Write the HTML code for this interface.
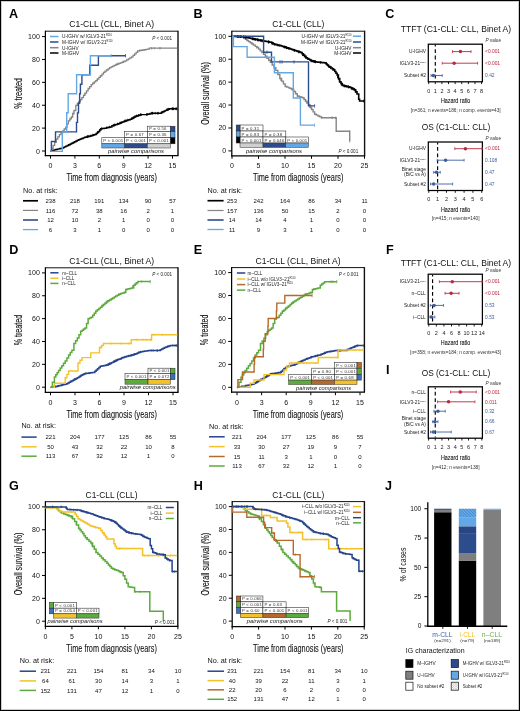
<!DOCTYPE html>
<html><head><meta charset="utf-8"><title>Figure</title>
<style>
html,body{margin:0;padding:0;background:#fff;}
body{width:520px;height:711px;overflow:hidden;}
#fig{position:relative;width:520px;height:711px;box-sizing:border-box;border:1px solid #000;background:#fff;box-shadow:inset 0 0 0 1px rgba(0,0,0,0.2);}
svg{position:absolute;left:-1px;top:-1px;will-change:transform;}
text{font-family:"Liberation Sans", sans-serif;}
</style></head><body><div id="fig">
<svg width="520" height="711" viewBox="0 0 520 711" font-family="Liberation Sans, sans-serif">
<text x="9" y="17.9" font-size="12.6" font-weight="bold">A</text>
<line x1="45.4" y1="31.2" x2="178" y2="31.2" stroke="#111" stroke-width="1"/>
<line x1="178" y1="30.7" x2="178" y2="155.6" stroke="#111" stroke-width="1.4"/>
<line x1="45.4" y1="30.7" x2="45.4" y2="156.2" stroke="#000" stroke-width="1.25"/>
<line x1="44.8" y1="155.6" x2="178.6" y2="155.6" stroke="#000" stroke-width="1.25"/>
<line x1="42" y1="151" x2="45.4" y2="151" stroke="#000" stroke-width="1"/>
<text x="39.8" y="153.5" font-size="7" text-anchor="end" fill="#111">0</text>
<line x1="42" y1="128.12" x2="45.4" y2="128.12" stroke="#000" stroke-width="1"/>
<text x="39.8" y="130.62" font-size="7" text-anchor="end" fill="#111">20</text>
<line x1="42" y1="105.24" x2="45.4" y2="105.24" stroke="#000" stroke-width="1"/>
<text x="39.8" y="107.74" font-size="7" text-anchor="end" fill="#111">40</text>
<line x1="42" y1="82.36" x2="45.4" y2="82.36" stroke="#000" stroke-width="1"/>
<text x="39.8" y="84.86" font-size="7" text-anchor="end" fill="#111">60</text>
<line x1="42" y1="59.48" x2="45.4" y2="59.48" stroke="#000" stroke-width="1"/>
<text x="39.8" y="61.98" font-size="7" text-anchor="end" fill="#111">80</text>
<line x1="42" y1="36.6" x2="45.4" y2="36.6" stroke="#000" stroke-width="1"/>
<text x="39.8" y="39.1" font-size="7" text-anchor="end" fill="#111">100</text>
<line x1="50.5" y1="155.6" x2="50.5" y2="158.6" stroke="#000" stroke-width="1"/>
<text x="50.5" y="168.2" font-size="7" text-anchor="middle" fill="#111">0</text>
<line x1="74.9" y1="155.6" x2="74.9" y2="158.6" stroke="#000" stroke-width="1"/>
<text x="74.9" y="168.2" font-size="7" text-anchor="middle" fill="#111">3</text>
<line x1="99.3" y1="155.6" x2="99.3" y2="158.6" stroke="#000" stroke-width="1"/>
<text x="99.3" y="168.2" font-size="7" text-anchor="middle" fill="#111">6</text>
<line x1="123.7" y1="155.6" x2="123.7" y2="158.6" stroke="#000" stroke-width="1"/>
<text x="123.7" y="168.2" font-size="7" text-anchor="middle" fill="#111">9</text>
<line x1="148.1" y1="155.6" x2="148.1" y2="158.6" stroke="#000" stroke-width="1"/>
<text x="148.1" y="168.2" font-size="7" text-anchor="middle" fill="#111">12</text>
<line x1="172.5" y1="155.6" x2="172.5" y2="158.6" stroke="#000" stroke-width="1"/>
<text x="172.5" y="168.2" font-size="7" text-anchor="middle" fill="#111">15</text>
<text x="111.7" y="181" font-size="10.5" text-anchor="middle" fill="#111" textLength="90.5" lengthAdjust="spacingAndGlyphs" stroke="#111" stroke-width="0.1">Time from diagnosis (years)</text>
<text x="0" y="0" font-size="10.4" text-anchor="middle" fill="#111" stroke="#111" stroke-width="0.12" transform="translate(22.3,93.4) rotate(-90)" textLength="30.6" lengthAdjust="spacingAndGlyphs">% treated</text>
<text x="111.7" y="27.1" font-size="9" text-anchor="middle" fill="#111" textLength="85" lengthAdjust="spacingAndGlyphs">C1-CLL (CLL, Binet A)</text>
<polyline points="50.5,151.2 51.8,151.2 51.8,148.3 53.1,148.3 53.1,145.4 54.65,145.4 54.65,142.25 56.2,142.25 56.2,139.1 57.8,139.1 57.8,136.9 59.4,136.9 59.4,134.7 61,134.7 61,132.8 62.6,132.8 62.6,130.9 64.15,130.9 64.15,129 65.7,129 65.7,127.1 67,127.1 67,123.95 68.3,123.95 68.3,120.8 69.85,120.8 69.85,118.9 71.4,118.9 71.4,117 72.7,117 72.7,113.75 74,113.75 74,110.5 75.8,110.5 75.8,105.4 77.33,105.4 77.33,103.48 78.85,103.48 78.85,101.55 80.38,101.55 80.38,99.62 81.9,99.62 81.9,97.7 83.45,97.7 83.45,95.4 85,95.4 85,93.1 86.55,93.1 86.55,90.8 88.1,90.8 88.1,88.5 89.65,88.5 89.65,86.55 91.2,86.55 91.2,84.6 92.72,84.6 92.72,83.25 94.25,83.25 94.25,81.9 95.78,81.9 95.78,80.55 97.3,80.55 97.3,79.2 98.85,79.2 98.85,77.47 100.4,77.47 100.4,75.75 101.95,75.75 101.95,74.03 103.5,74.03 103.5,72.3 105.03,72.3 105.03,71.15 106.55,71.15 106.55,70 108.07,70 108.07,68.85 109.6,68.85 109.6,67.7 111.15,67.7 111.15,66.92 112.7,66.92 112.7,66.15 114.25,66.15 114.25,65.38 115.8,65.38 115.8,64.6 117.33,64.6 117.33,64.02 118.85,64.02 118.85,63.45 120.38,63.45 120.38,62.88 121.9,62.88 121.9,62.3 123.45,62.3 123.45,61.55 125,61.55 125,60.8 126.62,60.8 126.62,59.82 128.25,59.82 128.25,58.85 129.88,58.85 129.88,57.88 131.5,57.88 131.5,56.9 133.05,56.9 133.05,55.38 134.6,55.38 134.6,53.85 136.15,53.85 136.15,52.32 137.7,52.32 137.7,50.8 139.37,50.8 139.37,50.53 141.03,50.53 141.03,50.27 142.7,50.27 142.7,50 144.37,50 144.37,49.73 146.03,49.73 146.03,49.47 147.7,49.47 147.7,49.2 149.2,49.2 149.2,48.2 177.4,48.2" fill="none" stroke="#858585" stroke-width="1.3" stroke-linejoin="miter"/>
<line x1="84.38" y1="92.82" x2="84.38" y2="95.22" stroke="#858585" stroke-width="0.7"/>
<line x1="160.68" y1="47" x2="160.68" y2="49.4" stroke="#858585" stroke-width="0.7"/>
<line x1="151.72" y1="47" x2="151.72" y2="49.4" stroke="#858585" stroke-width="0.7"/>
<line x1="97.29" y1="78.01" x2="97.29" y2="80.41" stroke="#858585" stroke-width="0.7"/>
<line x1="123.01" y1="60.56" x2="123.01" y2="62.96" stroke="#858585" stroke-width="0.7"/>
<line x1="118.1" y1="62.53" x2="118.1" y2="64.93" stroke="#858585" stroke-width="0.7"/>
<line x1="139.72" y1="49.28" x2="139.72" y2="51.68" stroke="#858585" stroke-width="0.7"/>
<line x1="154.39" y1="47" x2="154.39" y2="49.4" stroke="#858585" stroke-width="0.7"/>
<line x1="80.04" y1="98.84" x2="80.04" y2="101.24" stroke="#858585" stroke-width="0.7"/>
<line x1="73.03" y1="111.72" x2="73.03" y2="114.12" stroke="#858585" stroke-width="0.7"/>
<line x1="159.43" y1="47" x2="159.43" y2="49.4" stroke="#858585" stroke-width="0.7"/>
<line x1="116.31" y1="63.21" x2="116.31" y2="65.61" stroke="#858585" stroke-width="0.7"/>
<line x1="151.56" y1="47" x2="151.56" y2="49.4" stroke="#858585" stroke-width="0.7"/>
<line x1="70.23" y1="117.24" x2="70.23" y2="119.64" stroke="#858585" stroke-width="0.7"/>
<polyline points="50.5,151.2 51.83,151.2 51.83,150.75 53.15,150.75 53.15,150.3 54.47,150.3 54.47,149.85 55.8,149.85 55.8,149.4 57.22,149.4 57.22,149.12 58.65,149.12 58.65,148.85 60.08,148.85 60.08,148.58 61.5,148.58 61.5,148.3 62.95,148.3 62.95,147.58 64.4,147.58 64.4,146.85 65.85,146.85 65.85,146.12 67.3,146.12 67.3,145.4 68.75,145.4 68.75,144.68 70.2,144.68 70.2,143.95 71.65,143.95 71.65,143.22 73.1,143.22 73.1,142.5 74.52,142.5 74.52,141.78 75.95,141.78 75.95,141.05 77.38,141.05 77.38,140.32 78.8,140.32 78.8,139.6 80.25,139.6 80.25,139.03 81.7,139.03 81.7,138.45 83.15,138.45 83.15,137.88 84.6,137.88 84.6,137.3 86.05,137.3 86.05,136.95 87.5,136.95 87.5,136.6 88.95,136.6 88.95,136.25 90.4,136.25 90.4,135.9 91.55,135.9 91.55,135.53 92.7,135.53 92.7,135.15 93.85,135.15 93.85,134.78 95,134.78 95,134.4 96.17,134.4 96.17,133.43 97.33,133.43 97.33,132.47 98.5,132.47 98.5,131.5 99.65,131.5 99.65,130.1 100.8,130.1 100.8,128.7 101.95,128.7 101.95,128.55 103.1,128.55 103.1,128.4 104.25,128.4 104.25,128.25 105.4,128.25 105.4,128.1 106.55,128.1 106.55,127.8 107.7,127.8 107.7,127.5 108.85,127.5 108.85,127.2 110,127.2 110,126.9 111.9,126.9 111.9,125.8 113.14,125.8 113.14,125.4 114.38,125.4 114.38,125 115.62,125 115.62,124.6 116.86,124.6 116.86,124.2 118.1,124.2 118.1,123.8 119.48,123.8 119.48,123.22 120.86,123.22 120.86,122.64 122.24,122.64 122.24,122.06 123.62,122.06 123.62,121.48 125,121.48 125,120.9 126.33,120.9 126.33,120.5 127.65,120.5 127.65,120.1 128.98,120.1 128.98,119.7 130.3,119.7 130.3,119.3 131.62,119.3 131.62,118.53 132.95,118.53 132.95,117.75 134.28,117.75 134.28,116.97 135.6,116.97 135.6,116.2 136.93,116.2 136.93,115.8 138.25,115.8 138.25,115.4 139.57,115.4 139.57,115 140.9,115 140.9,114.6 146.2,114.6 147.52,114.6 147.52,114.25 148.85,114.25 148.85,113.9 150.18,113.9 150.18,113.55 151.5,113.55 151.5,113.2 159.9,113.2 161.33,113.2 161.33,112.43 162.77,112.43 162.77,111.67 164.2,111.67 164.2,110.9 165.5,110.9 165.5,110.38 166.8,110.38 166.8,109.85 168.1,109.85 168.1,109.33 169.4,109.33 169.4,108.8 177.2,108.8" fill="none" stroke="#000000" stroke-width="1.45" stroke-linejoin="miter"/>
<line x1="172.96" y1="107.5" x2="172.96" y2="110.1" stroke="#000000" stroke-width="0.8"/>
<line x1="172.2" y1="107.5" x2="172.2" y2="110.1" stroke="#000000" stroke-width="0.8"/>
<line x1="90.2" y1="134.65" x2="90.2" y2="137.25" stroke="#000000" stroke-width="0.8"/>
<line x1="92.81" y1="133.81" x2="92.81" y2="136.41" stroke="#000000" stroke-width="0.8"/>
<line x1="161.87" y1="110.85" x2="161.87" y2="113.45" stroke="#000000" stroke-width="0.8"/>
<line x1="152.71" y1="111.9" x2="152.71" y2="114.5" stroke="#000000" stroke-width="0.8"/>
<line x1="146.62" y1="113.19" x2="146.62" y2="115.79" stroke="#000000" stroke-width="0.8"/>
<line x1="113.35" y1="124.03" x2="113.35" y2="126.63" stroke="#000000" stroke-width="0.8"/>
<line x1="140.75" y1="113.35" x2="140.75" y2="115.95" stroke="#000000" stroke-width="0.8"/>
<line x1="140.83" y1="113.32" x2="140.83" y2="115.92" stroke="#000000" stroke-width="0.8"/>
<line x1="138.47" y1="114.03" x2="138.47" y2="116.63" stroke="#000000" stroke-width="0.8"/>
<line x1="99.57" y1="128.9" x2="99.57" y2="131.5" stroke="#000000" stroke-width="0.8"/>
<line x1="124.62" y1="119.76" x2="124.62" y2="122.36" stroke="#000000" stroke-width="0.8"/>
<line x1="121.2" y1="121.2" x2="121.2" y2="123.8" stroke="#000000" stroke-width="0.8"/>
<line x1="151.52" y1="111.9" x2="151.52" y2="114.5" stroke="#000000" stroke-width="0.8"/>
<line x1="176.52" y1="107.5" x2="176.52" y2="110.1" stroke="#000000" stroke-width="0.8"/>
<line x1="172.34" y1="107.5" x2="172.34" y2="110.1" stroke="#000000" stroke-width="0.8"/>
<line x1="135.06" y1="115.21" x2="135.06" y2="117.81" stroke="#000000" stroke-width="0.8"/>
<line x1="125.93" y1="119.32" x2="125.93" y2="121.92" stroke="#000000" stroke-width="0.8"/>
<line x1="109.68" y1="125.68" x2="109.68" y2="128.28" stroke="#000000" stroke-width="0.8"/>
<line x1="88.31" y1="135.11" x2="88.31" y2="137.71" stroke="#000000" stroke-width="0.8"/>
<line x1="87.52" y1="135.29" x2="87.52" y2="137.89" stroke="#000000" stroke-width="0.8"/>
<line x1="127.77" y1="118.76" x2="127.77" y2="121.36" stroke="#000000" stroke-width="0.8"/>
<line x1="114.3" y1="123.73" x2="114.3" y2="126.33" stroke="#000000" stroke-width="0.8"/>
<line x1="119.96" y1="121.72" x2="119.96" y2="124.32" stroke="#000000" stroke-width="0.8"/>
<line x1="167.04" y1="108.45" x2="167.04" y2="111.05" stroke="#000000" stroke-width="0.8"/>
<line x1="133.37" y1="116.2" x2="133.37" y2="118.8" stroke="#000000" stroke-width="0.8"/>
<line x1="136.57" y1="114.61" x2="136.57" y2="117.21" stroke="#000000" stroke-width="0.8"/>
<line x1="106.72" y1="126.45" x2="106.72" y2="129.05" stroke="#000000" stroke-width="0.8"/>
<line x1="87.19" y1="135.37" x2="87.19" y2="137.97" stroke="#000000" stroke-width="0.8"/>
<line x1="114.91" y1="123.53" x2="114.91" y2="126.13" stroke="#000000" stroke-width="0.8"/>
<line x1="97.58" y1="130.97" x2="97.58" y2="133.57" stroke="#000000" stroke-width="0.8"/>
<line x1="131.94" y1="117.04" x2="131.94" y2="119.64" stroke="#000000" stroke-width="0.8"/>
<line x1="176.88" y1="107.5" x2="176.88" y2="110.1" stroke="#000000" stroke-width="0.8"/>
<line x1="147.05" y1="113.07" x2="147.05" y2="115.67" stroke="#000000" stroke-width="0.8"/>
<line x1="101.73" y1="127.28" x2="101.73" y2="129.88" stroke="#000000" stroke-width="0.8"/>
<line x1="167.21" y1="108.38" x2="167.21" y2="110.98" stroke="#000000" stroke-width="0.8"/>
<line x1="158.3" y1="111.9" x2="158.3" y2="114.5" stroke="#000000" stroke-width="0.8"/>
<line x1="152.56" y1="111.9" x2="152.56" y2="114.5" stroke="#000000" stroke-width="0.8"/>
<line x1="168.41" y1="107.9" x2="168.41" y2="110.5" stroke="#000000" stroke-width="0.8"/>
<line x1="155.19" y1="111.9" x2="155.19" y2="114.5" stroke="#000000" stroke-width="0.8"/>
<line x1="157.66" y1="111.9" x2="157.66" y2="114.5" stroke="#000000" stroke-width="0.8"/>
<line x1="117.55" y1="122.68" x2="117.55" y2="125.28" stroke="#000000" stroke-width="0.8"/>
<line x1="175.25" y1="107.5" x2="175.25" y2="110.1" stroke="#000000" stroke-width="0.8"/>
<line x1="173.49" y1="107.5" x2="173.49" y2="110.1" stroke="#000000" stroke-width="0.8"/>
<polyline points="50.5,151.4 51.4,151.4 51.4,141.5 55.5,141.5 55.5,131.9 76.5,131.9 76.5,122.4 77.5,122.4 77.5,112.9 78.5,112.9 78.5,103.3 79.6,103.3 79.6,93.8 80.4,93.8 80.4,84.3 81.9,84.3 81.9,74.7 89.7,74.7 89.7,65.2 98.4,65.2 98.4,55.7 125.5,55.7 125.5,55.7" fill="none" stroke="#2d4c8c" stroke-width="1.4" stroke-linejoin="miter"/>
<polyline points="50.5,151.4 62.3,151.4 62.3,131.9 66.7,131.9 66.7,112.8 68.2,112.8 68.2,93.8 76.6,93.8 76.6,74.7 90.4,74.7 90.4,55.7 111.2,55.7 111.2,55.7" fill="none" stroke="#62a8e6" stroke-width="1.4" stroke-linejoin="miter"/>
<line x1="111.2" y1="54" x2="111.2" y2="57.4" stroke="#62a8e6" stroke-width="0.8"/>
<line x1="125.5" y1="54" x2="125.5" y2="57.4" stroke="#2d4c8c" stroke-width="0.8"/>
<line x1="50" y1="36.5" x2="58.5" y2="36.5" stroke="#62a8e6" stroke-width="1.5"/>
<text x="62" y="38.3" font-size="4.75" fill="#222">U-IGHV w/ IGLV3-21<tspan font-size="2.6" dy="-2">R110</tspan></text>
<line x1="50" y1="42" x2="58.5" y2="42" stroke="#2d4c8c" stroke-width="1.5"/>
<text x="62" y="43.8" font-size="4.75" fill="#222">M-IGHV w/ IGLV3-21<tspan font-size="2.6" dy="-2">R110</tspan></text>
<line x1="50" y1="47.7" x2="58.5" y2="47.7" stroke="#858585" stroke-width="1.5"/>
<text x="62" y="49.5" font-size="4.75" fill="#222">U-IGHV</text>
<line x1="50" y1="53" x2="58.5" y2="53" stroke="#000000" stroke-width="1.5"/>
<text x="62" y="54.8" font-size="4.75" fill="#222">M-IGHV</text>
<text x="172" y="40.3" font-size="4.6" fill="#222" text-anchor="end"><tspan font-style="italic">P</tspan> &lt; 0.001</text>
<rect x="147.4" y="126.2" width="23.1" height="5.4" fill="#fff" stroke="#333" stroke-width="0.6"/>
<text x="148.9" y="130.2" font-size="4.3" fill="#333" textLength="17.6" lengthAdjust="spacing">P = 0.56</text>
<rect x="124.6" y="131.6" width="22.8" height="6.1" fill="#fff" stroke="#333" stroke-width="0.6"/>
<text x="126.1" y="136.3" font-size="4.3" fill="#333" textLength="17.6" lengthAdjust="spacing">P = 0.67</text>
<rect x="147.4" y="131.6" width="23.1" height="6.1" fill="#fff" stroke="#333" stroke-width="0.6"/>
<text x="148.9" y="136.3" font-size="4.3" fill="#333" textLength="17.6" lengthAdjust="spacing">P = 0.36</text>
<rect x="101.8" y="137.7" width="22.8" height="6.1" fill="#fff" stroke="#333" stroke-width="0.6"/>
<text x="103.3" y="142.4" font-size="4.3" fill="#333" textLength="19.8" lengthAdjust="spacing">P &lt; 0.001</text>
<rect x="124.6" y="137.7" width="22.8" height="6.1" fill="#fff" stroke="#333" stroke-width="0.6"/>
<text x="126.1" y="142.4" font-size="4.3" fill="#333" textLength="19.8" lengthAdjust="spacing">P &lt; 0.001</text>
<rect x="147.4" y="137.7" width="23.1" height="6.1" fill="#fff" stroke="#333" stroke-width="0.6"/>
<text x="148.9" y="142.4" font-size="4.3" fill="#333" textLength="19.8" lengthAdjust="spacing">P &lt; 0.001</text>
<rect x="170.5" y="126.2" width="4.5" height="5.4" fill="#2d4c8c" stroke="#222" stroke-width="0.5"/>
<rect x="170.5" y="131.6" width="4.5" height="6.1" fill="#62a8e6" stroke="#222" stroke-width="0.5"/>
<rect x="170.5" y="137.7" width="4.5" height="6.1" fill="#000000" stroke="#222" stroke-width="0.5"/>
<rect x="101.8" y="143.8" width="22.8" height="4.2" fill="#62a8e6" stroke="#333" stroke-width="0.5"/>
<rect x="124.6" y="143.8" width="22.8" height="4.2" fill="#2d4c8c" stroke="#333" stroke-width="0.5"/>
<rect x="147.4" y="143.8" width="23.1" height="4.2" fill="#cfcfcf" stroke="#333" stroke-width="0.5"/>
<text x="136" y="153.3" font-size="5.2" text-anchor="middle" font-style="italic" fill="#222" textLength="56" lengthAdjust="spacingAndGlyphs">pairwise comparisons</text>
<text x="23" y="192.9" font-size="6.8" fill="#111" textLength="34.5" lengthAdjust="spacingAndGlyphs">No. at risk:</text>
<line x1="23" y1="200.8" x2="38" y2="200.8" stroke="#000000" stroke-width="1.7"/>
<text x="50.5" y="202.9" font-size="6" text-anchor="middle" fill="#111">238</text>
<text x="74.9" y="202.9" font-size="6" text-anchor="middle" fill="#111">218</text>
<text x="99.3" y="202.9" font-size="6" text-anchor="middle" fill="#111">191</text>
<text x="123.7" y="202.9" font-size="6" text-anchor="middle" fill="#111">134</text>
<text x="148.1" y="202.9" font-size="6" text-anchor="middle" fill="#111">90</text>
<text x="172.5" y="202.9" font-size="6" text-anchor="middle" fill="#111">57</text>
<line x1="23" y1="210.4" x2="38" y2="210.4" stroke="#858585" stroke-width="1.2"/>
<text x="50.5" y="212.5" font-size="6" text-anchor="middle" fill="#111">116</text>
<text x="74.9" y="212.5" font-size="6" text-anchor="middle" fill="#111">72</text>
<text x="99.3" y="212.5" font-size="6" text-anchor="middle" fill="#111">38</text>
<text x="123.7" y="212.5" font-size="6" text-anchor="middle" fill="#111">16</text>
<text x="148.1" y="212.5" font-size="6" text-anchor="middle" fill="#111">2</text>
<text x="172.5" y="212.5" font-size="6" text-anchor="middle" fill="#111">1</text>
<line x1="23" y1="220" x2="38" y2="220" stroke="#2d4c8c" stroke-width="1.6"/>
<text x="50.5" y="222.1" font-size="6" text-anchor="middle" fill="#111">12</text>
<text x="74.9" y="222.1" font-size="6" text-anchor="middle" fill="#111">10</text>
<text x="99.3" y="222.1" font-size="6" text-anchor="middle" fill="#111">2</text>
<text x="123.7" y="222.1" font-size="6" text-anchor="middle" fill="#111">1</text>
<text x="148.1" y="222.1" font-size="6" text-anchor="middle" fill="#111">0</text>
<text x="172.5" y="222.1" font-size="6" text-anchor="middle" fill="#111">0</text>
<line x1="23" y1="229.6" x2="38" y2="229.6" stroke="#62a8e6" stroke-width="1.3"/>
<text x="50.5" y="231.7" font-size="6" text-anchor="middle" fill="#111">6</text>
<text x="74.9" y="231.7" font-size="6" text-anchor="middle" fill="#111">3</text>
<text x="99.3" y="231.7" font-size="6" text-anchor="middle" fill="#111">1</text>
<text x="123.7" y="231.7" font-size="6" text-anchor="middle" fill="#111">0</text>
<text x="148.1" y="231.7" font-size="6" text-anchor="middle" fill="#111">0</text>
<text x="172.5" y="231.7" font-size="6" text-anchor="middle" fill="#111">0</text>
<text x="193.6" y="17.9" font-size="12.6" font-weight="bold">B</text>
<line x1="231.8" y1="31.2" x2="364.6" y2="31.2" stroke="#111" stroke-width="1"/>
<line x1="364.6" y1="30.7" x2="364.6" y2="155.8" stroke="#111" stroke-width="1.4"/>
<line x1="231.8" y1="30.7" x2="231.8" y2="156.4" stroke="#000" stroke-width="1.25"/>
<line x1="231.2" y1="155.8" x2="365.2" y2="155.8" stroke="#000" stroke-width="1.25"/>
<line x1="228.4" y1="150.9" x2="231.8" y2="150.9" stroke="#000" stroke-width="1"/>
<text x="226.2" y="153.4" font-size="7" text-anchor="end" fill="#111">0</text>
<line x1="228.4" y1="127.98" x2="231.8" y2="127.98" stroke="#000" stroke-width="1"/>
<text x="226.2" y="130.48" font-size="7" text-anchor="end" fill="#111">20</text>
<line x1="228.4" y1="105.06" x2="231.8" y2="105.06" stroke="#000" stroke-width="1"/>
<text x="226.2" y="107.56" font-size="7" text-anchor="end" fill="#111">40</text>
<line x1="228.4" y1="82.14" x2="231.8" y2="82.14" stroke="#000" stroke-width="1"/>
<text x="226.2" y="84.64" font-size="7" text-anchor="end" fill="#111">60</text>
<line x1="228.4" y1="59.22" x2="231.8" y2="59.22" stroke="#000" stroke-width="1"/>
<text x="226.2" y="61.72" font-size="7" text-anchor="end" fill="#111">80</text>
<line x1="228.4" y1="36.3" x2="231.8" y2="36.3" stroke="#000" stroke-width="1"/>
<text x="226.2" y="38.8" font-size="7" text-anchor="end" fill="#111">100</text>
<line x1="232" y1="155.8" x2="232" y2="158.8" stroke="#000" stroke-width="1"/>
<text x="232" y="168.4" font-size="7" text-anchor="middle" fill="#111">0</text>
<line x1="258.5" y1="155.8" x2="258.5" y2="158.8" stroke="#000" stroke-width="1"/>
<text x="258.5" y="168.4" font-size="7" text-anchor="middle" fill="#111">5</text>
<line x1="285" y1="155.8" x2="285" y2="158.8" stroke="#000" stroke-width="1"/>
<text x="285" y="168.4" font-size="7" text-anchor="middle" fill="#111">10</text>
<line x1="311.5" y1="155.8" x2="311.5" y2="158.8" stroke="#000" stroke-width="1"/>
<text x="311.5" y="168.4" font-size="7" text-anchor="middle" fill="#111">15</text>
<line x1="338" y1="155.8" x2="338" y2="158.8" stroke="#000" stroke-width="1"/>
<text x="338" y="168.4" font-size="7" text-anchor="middle" fill="#111">20</text>
<line x1="364.5" y1="155.8" x2="364.5" y2="158.8" stroke="#000" stroke-width="1"/>
<text x="364.5" y="168.4" font-size="7" text-anchor="middle" fill="#111">25</text>
<text x="298.2" y="181.2" font-size="10.5" text-anchor="middle" fill="#111" textLength="90.5" lengthAdjust="spacingAndGlyphs" stroke="#111" stroke-width="0.1">Time from diagnosis (years)</text>
<text x="0" y="0" font-size="10.4" text-anchor="middle" fill="#111" stroke="#111" stroke-width="0.12" transform="translate(209.4,93.5) rotate(-90)" textLength="62.6" lengthAdjust="spacingAndGlyphs">Overall survival (%)</text>
<text x="298.2" y="27.1" font-size="9" text-anchor="middle" fill="#111" textLength="52" lengthAdjust="spacingAndGlyphs">C1-CLL (CLL)</text>
<polyline points="232,36.3 233.68,36.3 233.68,36.38 235.37,36.38 235.37,36.47 237.05,36.47 237.05,36.55 238.73,36.55 238.73,36.63 240.42,36.63 240.42,36.72 242.1,36.72 242.1,36.8 243.72,36.8 243.72,38 245.34,38 245.34,39.2 246.96,39.2 246.96,40.4 248.58,40.4 248.58,41.6 250.2,41.6 250.2,42.8 251.88,42.8 251.88,43.97 253.55,43.97 253.55,45.15 255.22,45.15 255.22,46.33 256.9,46.33 256.9,47.5 258.57,47.5 258.57,49.17 260.25,49.17 260.25,50.85 261.93,50.85 261.93,52.53 263.6,52.53 263.6,54.2 265.3,54.2 265.3,56.23 267,56.23 267,58.25 268.7,58.25 268.7,60.27 270.4,60.27 270.4,62.3 272.2,62.3 272.2,65 274,65 274,67.7 275.8,67.7 275.8,70.4 277.8,70.4 277.8,74.45 279.8,74.45 279.8,78.5 281.6,78.5 281.6,81.17 283.4,81.17 283.4,83.83 285.2,83.83 285.2,86.5 286.88,86.5 286.88,87.17 288.55,87.17 288.55,87.85 290.22,87.85 290.22,88.53 291.9,88.53 291.9,89.2 293.7,89.2 293.7,91.47 295.5,91.47 295.5,93.73 297.3,93.73 297.3,96 299.03,96 299.03,96.6 300.77,96.6 300.77,97.2 302.5,97.2 302.5,97.8 304,97.8 304,99.53 305.5,99.53 305.5,101.25 307,101.25 307,102.97 308.5,102.97 308.5,104.7 310.02,104.7 310.02,107.08 311.55,107.08 311.55,109.45 313.08,109.45 313.08,111.83 314.6,111.83 314.6,114.2 316.33,114.2 316.33,115.08 318.05,115.08 318.05,115.95 319.77,115.95 319.77,116.83 321.5,116.83 321.5,117.7 336.2,117.7 336.2,131.2 349.7,131.2 349.7,141" fill="none" stroke="#858585" stroke-width="1.4" stroke-linejoin="miter"/>
<line x1="266.18" y1="56.07" x2="266.18" y2="58.47" stroke="#858585" stroke-width="0.7"/>
<line x1="299.87" y1="95.69" x2="299.87" y2="98.09" stroke="#858585" stroke-width="0.7"/>
<line x1="280.7" y1="78.63" x2="280.7" y2="81.03" stroke="#858585" stroke-width="0.7"/>
<line x1="306.43" y1="101.12" x2="306.43" y2="103.52" stroke="#858585" stroke-width="0.7"/>
<line x1="308.83" y1="104.01" x2="308.83" y2="106.41" stroke="#858585" stroke-width="0.7"/>
<line x1="247.21" y1="39.38" x2="247.21" y2="41.78" stroke="#858585" stroke-width="0.7"/>
<line x1="241.45" y1="35.57" x2="241.45" y2="37.97" stroke="#858585" stroke-width="0.7"/>
<line x1="332.12" y1="116.5" x2="332.12" y2="118.9" stroke="#858585" stroke-width="0.7"/>
<line x1="268.53" y1="58.87" x2="268.53" y2="61.27" stroke="#858585" stroke-width="0.7"/>
<line x1="265.78" y1="55.59" x2="265.78" y2="57.99" stroke="#858585" stroke-width="0.7"/>
<line x1="349.52" y1="130" x2="349.52" y2="132.4" stroke="#858585" stroke-width="0.7"/>
<line x1="291.73" y1="87.93" x2="291.73" y2="90.33" stroke="#858585" stroke-width="0.7"/>
<line x1="332.01" y1="116.5" x2="332.01" y2="118.9" stroke="#858585" stroke-width="0.7"/>
<line x1="292.4" y1="88.63" x2="292.4" y2="91.03" stroke="#858585" stroke-width="0.7"/>
<line x1="310.3" y1="106.3" x2="310.3" y2="108.7" stroke="#858585" stroke-width="0.7"/>
<line x1="256.57" y1="46.07" x2="256.57" y2="48.47" stroke="#858585" stroke-width="0.7"/>
<line x1="309.83" y1="105.58" x2="309.83" y2="107.98" stroke="#858585" stroke-width="0.7"/>
<line x1="335.48" y1="116.5" x2="335.48" y2="118.9" stroke="#858585" stroke-width="0.7"/>
<line x1="297.55" y1="94.89" x2="297.55" y2="97.29" stroke="#858585" stroke-width="0.7"/>
<line x1="321.54" y1="116.5" x2="321.54" y2="118.9" stroke="#858585" stroke-width="0.7"/>
<polyline points="232,36.3 233.33,36.3 233.33,36.36 234.67,36.36 234.67,36.41 236,36.41 236,36.47 237.33,36.47 237.33,36.52 238.67,36.52 238.67,36.58 240,36.58 240,36.63 241.33,36.63 241.33,36.69 242.67,36.69 242.67,36.74 244,36.74 244,36.8 245.24,36.8 245.24,37.1 246.48,37.1 246.48,37.4 247.72,37.4 247.72,37.7 248.96,37.7 248.96,38 250.2,38 250.2,38.3 251.54,38.3 251.54,38.58 252.89,38.58 252.89,38.86 254.23,38.86 254.23,39.13 255.58,39.13 255.58,39.41 256.92,39.41 256.92,39.69 258.27,39.69 258.27,39.97 259.61,39.97 259.61,40.24 260.96,40.24 260.96,40.52 262.3,40.52 262.3,40.8 263.65,40.8 263.65,41.05 265,41.05 265,41.3 266.35,41.3 266.35,41.55 267.7,41.55 267.7,41.8 269.05,41.8 269.05,42.05 270.4,42.05 270.4,42.3 271.8,42.3 271.8,43 273.2,43 273.2,43.7 274.6,43.7 274.6,44.4 275.95,44.4 275.95,44.7 277.3,44.7 277.3,45 278.65,45 278.65,45.3 280,45.3 280,45.6 281.3,45.6 281.3,46.02 282.6,46.02 282.6,46.45 283.9,46.45 283.9,46.88 285.2,46.88 285.2,47.3 286.5,47.3 286.5,47.73 287.8,47.73 287.8,48.15 289.1,48.15 289.1,48.58 290.4,48.58 290.4,49 291.7,49 291.7,49.44 293,49.44 293,49.88 294.3,49.88 294.3,50.31 295.6,50.31 295.6,50.75 296.9,50.75 296.9,51.19 298.2,51.19 298.2,51.62 299.5,51.62 299.5,52.06 300.8,52.06 300.8,52.5 302.1,52.5 302.1,53.8 303.4,53.8 303.4,55.1 304.7,55.1 304.7,56.4 306,56.4 306,57.7 307.27,57.7 307.27,58.48 308.55,58.48 308.55,59.25 309.83,59.25 309.83,60.02 311.1,60.02 311.1,60.8 312.4,60.8 312.4,61.1 313.7,61.1 313.7,61.4 315,61.4 315,61.7 316.3,61.7 316.3,62 317.54,62 317.54,62.13 318.79,62.13 318.79,62.26 320.03,62.26 320.03,62.39 321.27,62.39 321.27,62.51 322.51,62.51 322.51,62.64 323.76,62.64 323.76,62.77 325,62.77 325,62.9 326.13,62.9 326.13,64.03 327.27,64.03 327.27,65.17 328.4,65.17 328.4,66.3 329.7,66.3 329.7,67.17 331,67.17 331,68.05 332.3,68.05 332.3,68.92 333.6,68.92 333.6,69.8 334.77,69.8 334.77,71.53 335.93,71.53 335.93,73.27 337.1,73.27 337.1,75 338.4,75 338.4,78.45 339.7,78.45 339.7,81.9 341,81.9 341,83.65 342.3,83.65 342.3,85.4 343.68,85.4 343.68,85.74 345.06,85.74 345.06,86.08 346.44,86.08 346.44,86.42 347.82,86.42 347.82,86.76 349.2,86.76 349.2,87.1 350.5,87.1 350.5,87.75 351.8,87.75 351.8,88.4 353.1,88.4 353.1,89.05 354.4,89.05 354.4,89.7 355.7,89.7 355.7,91.85 357,91.85 357,94 358.7,94 358.7,99.2 359.6,99.2 359.6,101 364,101" fill="none" stroke="#000000" stroke-width="1.6" stroke-linejoin="miter"/>
<line x1="263.16" y1="39.56" x2="263.16" y2="42.36" stroke="#000000" stroke-width="0.8"/>
<line x1="245.62" y1="35.79" x2="245.62" y2="38.59" stroke="#000000" stroke-width="0.8"/>
<line x1="284.28" y1="45.6" x2="284.28" y2="48.4" stroke="#000000" stroke-width="0.8"/>
<line x1="252.46" y1="37.37" x2="252.46" y2="40.17" stroke="#000000" stroke-width="0.8"/>
<line x1="240.78" y1="35.27" x2="240.78" y2="38.07" stroke="#000000" stroke-width="0.8"/>
<line x1="285.01" y1="45.84" x2="285.01" y2="48.64" stroke="#000000" stroke-width="0.8"/>
<line x1="353.17" y1="87.69" x2="353.17" y2="90.49" stroke="#000000" stroke-width="0.8"/>
<line x1="337.66" y1="75.09" x2="337.66" y2="77.89" stroke="#000000" stroke-width="0.8"/>
<line x1="333" y1="68" x2="333" y2="70.8" stroke="#000000" stroke-width="0.8"/>
<line x1="261.29" y1="39.19" x2="261.29" y2="41.99" stroke="#000000" stroke-width="0.8"/>
<line x1="302.84" y1="53.14" x2="302.84" y2="55.94" stroke="#000000" stroke-width="0.8"/>
<line x1="268.52" y1="40.55" x2="268.52" y2="43.35" stroke="#000000" stroke-width="0.8"/>
<line x1="254.79" y1="37.85" x2="254.79" y2="40.65" stroke="#000000" stroke-width="0.8"/>
<line x1="246.02" y1="35.89" x2="246.02" y2="38.69" stroke="#000000" stroke-width="0.8"/>
<line x1="260.3" y1="38.99" x2="260.3" y2="41.79" stroke="#000000" stroke-width="0.8"/>
<line x1="354.43" y1="88.34" x2="354.43" y2="91.14" stroke="#000000" stroke-width="0.8"/>
<line x1="341.42" y1="82.81" x2="341.42" y2="85.61" stroke="#000000" stroke-width="0.8"/>
<line x1="338.48" y1="77.26" x2="338.48" y2="80.06" stroke="#000000" stroke-width="0.8"/>
<line x1="337.66" y1="75.08" x2="337.66" y2="77.88" stroke="#000000" stroke-width="0.8"/>
<line x1="257.53" y1="38.42" x2="257.53" y2="41.22" stroke="#000000" stroke-width="0.8"/>
<line x1="272.9" y1="42.15" x2="272.9" y2="44.95" stroke="#000000" stroke-width="0.8"/>
<line x1="314.76" y1="60.24" x2="314.76" y2="63.04" stroke="#000000" stroke-width="0.8"/>
<line x1="328.61" y1="65.04" x2="328.61" y2="67.84" stroke="#000000" stroke-width="0.8"/>
<line x1="344.81" y1="84.62" x2="344.81" y2="87.42" stroke="#000000" stroke-width="0.8"/>
<line x1="348.17" y1="85.45" x2="348.17" y2="88.25" stroke="#000000" stroke-width="0.8"/>
<line x1="243.45" y1="35.38" x2="243.45" y2="38.18" stroke="#000000" stroke-width="0.8"/>
<line x1="311.97" y1="59.6" x2="311.97" y2="62.4" stroke="#000000" stroke-width="0.8"/>
<line x1="320.66" y1="61.05" x2="320.66" y2="63.85" stroke="#000000" stroke-width="0.8"/>
<line x1="298.79" y1="50.42" x2="298.79" y2="53.22" stroke="#000000" stroke-width="0.8"/>
<line x1="255.47" y1="37.99" x2="255.47" y2="40.79" stroke="#000000" stroke-width="0.8"/>
<line x1="294.51" y1="48.98" x2="294.51" y2="51.78" stroke="#000000" stroke-width="0.8"/>
<line x1="243.79" y1="35.39" x2="243.79" y2="38.19" stroke="#000000" stroke-width="0.8"/>
<line x1="355.37" y1="89.9" x2="355.37" y2="92.7" stroke="#000000" stroke-width="0.8"/>
<line x1="346.24" y1="84.97" x2="346.24" y2="87.77" stroke="#000000" stroke-width="0.8"/>
<line x1="304.29" y1="54.59" x2="304.29" y2="57.39" stroke="#000000" stroke-width="0.8"/>
<line x1="271.63" y1="41.52" x2="271.63" y2="44.32" stroke="#000000" stroke-width="0.8"/>
<line x1="351.97" y1="87.09" x2="351.97" y2="89.89" stroke="#000000" stroke-width="0.8"/>
<line x1="307.55" y1="57.24" x2="307.55" y2="60.04" stroke="#000000" stroke-width="0.8"/>
<line x1="348.47" y1="85.52" x2="348.47" y2="88.32" stroke="#000000" stroke-width="0.8"/>
<line x1="343.94" y1="84.4" x2="343.94" y2="87.2" stroke="#000000" stroke-width="0.8"/>
<line x1="299.11" y1="50.53" x2="299.11" y2="53.33" stroke="#000000" stroke-width="0.8"/>
<line x1="286.64" y1="46.37" x2="286.64" y2="49.17" stroke="#000000" stroke-width="0.8"/>
<line x1="311.06" y1="59.37" x2="311.06" y2="62.17" stroke="#000000" stroke-width="0.8"/>
<line x1="288.9" y1="47.11" x2="288.9" y2="49.91" stroke="#000000" stroke-width="0.8"/>
<line x1="253.29" y1="37.54" x2="253.29" y2="40.34" stroke="#000000" stroke-width="0.8"/>
<line x1="272.27" y1="41.84" x2="272.27" y2="44.64" stroke="#000000" stroke-width="0.8"/>
<line x1="339.26" y1="79.34" x2="339.26" y2="82.14" stroke="#000000" stroke-width="0.8"/>
<line x1="237.71" y1="35.14" x2="237.71" y2="37.94" stroke="#000000" stroke-width="0.8"/>
<line x1="238.11" y1="35.15" x2="238.11" y2="37.95" stroke="#000000" stroke-width="0.8"/>
<line x1="314.68" y1="60.23" x2="314.68" y2="63.03" stroke="#000000" stroke-width="0.8"/>
<line x1="269.02" y1="40.64" x2="269.02" y2="43.44" stroke="#000000" stroke-width="0.8"/>
<line x1="302.57" y1="52.87" x2="302.57" y2="55.67" stroke="#000000" stroke-width="0.8"/>
<line x1="294.2" y1="48.88" x2="294.2" y2="51.68" stroke="#000000" stroke-width="0.8"/>
<line x1="277.26" y1="43.59" x2="277.26" y2="46.39" stroke="#000000" stroke-width="0.8"/>
<line x1="363.64" y1="99.6" x2="363.64" y2="102.4" stroke="#000000" stroke-width="0.8"/>
<line x1="257.82" y1="38.47" x2="257.82" y2="41.27" stroke="#000000" stroke-width="0.8"/>
<line x1="286.49" y1="46.32" x2="286.49" y2="49.12" stroke="#000000" stroke-width="0.8"/>
<line x1="258.75" y1="38.67" x2="258.75" y2="41.47" stroke="#000000" stroke-width="0.8"/>
<line x1="315.51" y1="60.42" x2="315.51" y2="63.22" stroke="#000000" stroke-width="0.8"/>
<line x1="268.47" y1="40.54" x2="268.47" y2="43.34" stroke="#000000" stroke-width="0.8"/>
<line x1="278.97" y1="43.97" x2="278.97" y2="46.77" stroke="#000000" stroke-width="0.8"/>
<line x1="330.6" y1="66.38" x2="330.6" y2="69.18" stroke="#000000" stroke-width="0.8"/>
<line x1="274.33" y1="42.86" x2="274.33" y2="45.66" stroke="#000000" stroke-width="0.8"/>
<line x1="305.73" y1="56.03" x2="305.73" y2="58.83" stroke="#000000" stroke-width="0.8"/>
<line x1="351.37" y1="86.78" x2="351.37" y2="89.58" stroke="#000000" stroke-width="0.8"/>
<line x1="245.33" y1="35.72" x2="245.33" y2="38.52" stroke="#000000" stroke-width="0.8"/>
<line x1="240.13" y1="35.24" x2="240.13" y2="38.04" stroke="#000000" stroke-width="0.8"/>
<line x1="262.21" y1="39.38" x2="262.21" y2="42.18" stroke="#000000" stroke-width="0.8"/>
<line x1="333" y1="68" x2="333" y2="70.8" stroke="#000000" stroke-width="0.8"/>
<line x1="313.24" y1="59.89" x2="313.24" y2="62.69" stroke="#000000" stroke-width="0.8"/>
<polyline points="232,36.3 263.6,36.3 263.6,52.2 271.5,52.2 271.5,61.9 308.5,61.9 308.5,105.9 314.6,105.9" fill="none" stroke="#2d4c8c" stroke-width="1.4" stroke-linejoin="miter"/>
<polyline points="232,36.3 233.4,36.3 233.4,46.6 247.1,46.6 247.1,57.3 274.4,57.3 274.4,72.8 293.3,72.8 293.3,98 300.4,98 300.4,125.1 314.6,125.1" fill="none" stroke="#62a8e6" stroke-width="1.4" stroke-linejoin="miter"/>
<line x1="267" y1="50.5" x2="267" y2="53.9" stroke="#2d4c8c" stroke-width="0.8"/>
<line x1="280" y1="60.2" x2="280" y2="63.6" stroke="#2d4c8c" stroke-width="0.8"/>
<line x1="282" y1="60.2" x2="282" y2="63.6" stroke="#2d4c8c" stroke-width="0.8"/>
<line x1="294" y1="60.2" x2="294" y2="63.6" stroke="#2d4c8c" stroke-width="0.8"/>
<line x1="314.6" y1="104.2" x2="314.6" y2="107.6" stroke="#2d4c8c" stroke-width="0.8"/>
<line x1="314.6" y1="123.4" x2="314.6" y2="126.8" stroke="#62a8e6" stroke-width="0.8"/>
<line x1="349.7" y1="139.3" x2="349.7" y2="142.7" stroke="#858585" stroke-width="0.8"/>
<line x1="353" y1="36.2" x2="361" y2="36.2" stroke="#62a8e6" stroke-width="1.5"/>
<text x="351.5" y="38" font-size="4.75" fill="#222" text-anchor="end">U-IGHV w/ IGLV3-21<tspan font-size="2.6" dy="-2">R110</tspan></text>
<line x1="353" y1="42" x2="361" y2="42" stroke="#2d4c8c" stroke-width="1.5"/>
<text x="351.5" y="43.8" font-size="4.75" fill="#222" text-anchor="end">M-IGHV w/ IGLV3-21<tspan font-size="2.6" dy="-2">R110</tspan></text>
<line x1="353" y1="47.7" x2="361" y2="47.7" stroke="#858585" stroke-width="1.5"/>
<text x="351.5" y="49.5" font-size="4.75" text-anchor="end" fill="#222">U-IGHV</text>
<line x1="353" y1="53" x2="361" y2="53" stroke="#000000" stroke-width="1.5"/>
<text x="351.5" y="54.8" font-size="4.75" text-anchor="end" fill="#222">M-IGHV</text>
<text x="358.2" y="152.7" font-size="4.6" fill="#222" text-anchor="end"><tspan font-style="italic">P</tspan> &lt; 0.001</text>
<rect x="240" y="125" width="23" height="6" fill="#fff" stroke="#333" stroke-width="0.6"/>
<text x="241.5" y="129.6" font-size="4.3" fill="#333" textLength="17.6" lengthAdjust="spacing">P = 0.31</text>
<rect x="240" y="131" width="23" height="6" fill="#fff" stroke="#333" stroke-width="0.6"/>
<text x="241.5" y="135.6" font-size="4.3" fill="#333" textLength="17.6" lengthAdjust="spacing">P = 0.83</text>
<rect x="263" y="131" width="22.8" height="6" fill="#fff" stroke="#333" stroke-width="0.6"/>
<text x="264.5" y="135.6" font-size="4.3" fill="#333" textLength="17.6" lengthAdjust="spacing">P = 0.38</text>
<rect x="240" y="137" width="23" height="6" fill="#fff" stroke="#333" stroke-width="0.6"/>
<text x="241.5" y="141.6" font-size="4.3" fill="#333" textLength="19.8" lengthAdjust="spacing">P &lt; 0.001</text>
<rect x="263" y="137" width="22.8" height="6" fill="#fff" stroke="#333" stroke-width="0.6"/>
<text x="264.5" y="141.6" font-size="4.3" fill="#333" textLength="19.8" lengthAdjust="spacing">P = 0.046</text>
<rect x="285.8" y="137" width="22.6" height="6" fill="#fff" stroke="#333" stroke-width="0.6"/>
<text x="287.3" y="141.6" font-size="4.3" fill="#333" textLength="19.8" lengthAdjust="spacing">P &lt; 0.001</text>
<rect x="236.2" y="125" width="3.8" height="6" fill="#2d4c8c" stroke="#222" stroke-width="0.5"/>
<rect x="236.2" y="131" width="3.8" height="6" fill="#62a8e6" stroke="#222" stroke-width="0.5"/>
<rect x="236.2" y="137" width="3.8" height="6" fill="#000000" stroke="#222" stroke-width="0.5"/>
<rect x="240" y="143" width="23" height="4.4" fill="#cfcfcf" stroke="#333" stroke-width="0.5"/>
<rect x="263" y="143" width="22.8" height="4.4" fill="#2d4c8c" stroke="#333" stroke-width="0.5"/>
<rect x="285.8" y="143" width="22.6" height="4.4" fill="#62a8e6" stroke="#333" stroke-width="0.5"/>
<text x="274" y="152.7" font-size="5.2" text-anchor="middle" font-style="italic" fill="#222" textLength="56" lengthAdjust="spacingAndGlyphs">pairwise comparisons</text>
<text x="207.5" y="192.7" font-size="6.8" fill="#111" textLength="34.5" lengthAdjust="spacingAndGlyphs">No. at risk:</text>
<line x1="207.5" y1="200.7" x2="223.6" y2="200.7" stroke="#000000" stroke-width="1.7"/>
<text x="232" y="202.8" font-size="6" text-anchor="middle" fill="#111">253</text>
<text x="258.5" y="202.8" font-size="6" text-anchor="middle" fill="#111">242</text>
<text x="285" y="202.8" font-size="6" text-anchor="middle" fill="#111">164</text>
<text x="311.5" y="202.8" font-size="6" text-anchor="middle" fill="#111">86</text>
<text x="338" y="202.8" font-size="6" text-anchor="middle" fill="#111">34</text>
<text x="364.5" y="202.8" font-size="6" text-anchor="middle" fill="#111">11</text>
<line x1="207.5" y1="210.5" x2="223.6" y2="210.5" stroke="#858585" stroke-width="1.2"/>
<text x="232" y="212.6" font-size="6" text-anchor="middle" fill="#111">157</text>
<text x="258.5" y="212.6" font-size="6" text-anchor="middle" fill="#111">136</text>
<text x="285" y="212.6" font-size="6" text-anchor="middle" fill="#111">50</text>
<text x="311.5" y="212.6" font-size="6" text-anchor="middle" fill="#111">15</text>
<text x="338" y="212.6" font-size="6" text-anchor="middle" fill="#111">2</text>
<text x="364.5" y="212.6" font-size="6" text-anchor="middle" fill="#111">0</text>
<line x1="207.5" y1="220" x2="223.6" y2="220" stroke="#2d4c8c" stroke-width="1.6"/>
<text x="232" y="222.1" font-size="6" text-anchor="middle" fill="#111">14</text>
<text x="258.5" y="222.1" font-size="6" text-anchor="middle" fill="#111">14</text>
<text x="285" y="222.1" font-size="6" text-anchor="middle" fill="#111">4</text>
<text x="311.5" y="222.1" font-size="6" text-anchor="middle" fill="#111">1</text>
<text x="338" y="222.1" font-size="6" text-anchor="middle" fill="#111">0</text>
<text x="364.5" y="222.1" font-size="6" text-anchor="middle" fill="#111">0</text>
<line x1="207.5" y1="229.5" x2="223.6" y2="229.5" stroke="#62a8e6" stroke-width="1.3"/>
<text x="232" y="231.6" font-size="6" text-anchor="middle" fill="#111">11</text>
<text x="258.5" y="231.6" font-size="6" text-anchor="middle" fill="#111">9</text>
<text x="285" y="231.6" font-size="6" text-anchor="middle" fill="#111">3</text>
<text x="311.5" y="231.6" font-size="6" text-anchor="middle" fill="#111">1</text>
<text x="338" y="231.6" font-size="6" text-anchor="middle" fill="#111">0</text>
<text x="364.5" y="231.6" font-size="6" text-anchor="middle" fill="#111">0</text>
<text x="9.3" y="253.5" font-size="12.6" font-weight="bold">D</text>
<line x1="45.4" y1="267.8" x2="178" y2="267.8" stroke="#111" stroke-width="1"/>
<line x1="178" y1="267.3" x2="178" y2="392.3" stroke="#111" stroke-width="1.4"/>
<line x1="45.4" y1="267.3" x2="45.4" y2="392.9" stroke="#000" stroke-width="1.25"/>
<line x1="44.8" y1="392.3" x2="178.6" y2="392.3" stroke="#000" stroke-width="1.25"/>
<line x1="42" y1="387.2" x2="45.4" y2="387.2" stroke="#000" stroke-width="1"/>
<text x="39.8" y="389.7" font-size="7" text-anchor="end" fill="#111">0</text>
<line x1="42" y1="364.34" x2="45.4" y2="364.34" stroke="#000" stroke-width="1"/>
<text x="39.8" y="366.84" font-size="7" text-anchor="end" fill="#111">20</text>
<line x1="42" y1="341.48" x2="45.4" y2="341.48" stroke="#000" stroke-width="1"/>
<text x="39.8" y="343.98" font-size="7" text-anchor="end" fill="#111">40</text>
<line x1="42" y1="318.62" x2="45.4" y2="318.62" stroke="#000" stroke-width="1"/>
<text x="39.8" y="321.12" font-size="7" text-anchor="end" fill="#111">60</text>
<line x1="42" y1="295.76" x2="45.4" y2="295.76" stroke="#000" stroke-width="1"/>
<text x="39.8" y="298.26" font-size="7" text-anchor="end" fill="#111">80</text>
<line x1="42" y1="272.9" x2="45.4" y2="272.9" stroke="#000" stroke-width="1"/>
<text x="39.8" y="275.4" font-size="7" text-anchor="end" fill="#111">100</text>
<line x1="50.5" y1="392.3" x2="50.5" y2="395.3" stroke="#000" stroke-width="1"/>
<text x="50.5" y="404.9" font-size="7" text-anchor="middle" fill="#111">0</text>
<line x1="75" y1="392.3" x2="75" y2="395.3" stroke="#000" stroke-width="1"/>
<text x="75" y="404.9" font-size="7" text-anchor="middle" fill="#111">3</text>
<line x1="99.5" y1="392.3" x2="99.5" y2="395.3" stroke="#000" stroke-width="1"/>
<text x="99.5" y="404.9" font-size="7" text-anchor="middle" fill="#111">6</text>
<line x1="124" y1="392.3" x2="124" y2="395.3" stroke="#000" stroke-width="1"/>
<text x="124" y="404.9" font-size="7" text-anchor="middle" fill="#111">9</text>
<line x1="148.5" y1="392.3" x2="148.5" y2="395.3" stroke="#000" stroke-width="1"/>
<text x="148.5" y="404.9" font-size="7" text-anchor="middle" fill="#111">12</text>
<line x1="173" y1="392.3" x2="173" y2="395.3" stroke="#000" stroke-width="1"/>
<text x="173" y="404.9" font-size="7" text-anchor="middle" fill="#111">15</text>
<text x="111.7" y="417.7" font-size="10.5" text-anchor="middle" fill="#111" textLength="90.5" lengthAdjust="spacingAndGlyphs" stroke="#111" stroke-width="0.1">Time from diagnosis (years)</text>
<text x="0" y="0" font-size="10.4" text-anchor="middle" fill="#111" stroke="#111" stroke-width="0.12" transform="translate(22.3,330.05) rotate(-90)" textLength="30.6" lengthAdjust="spacingAndGlyphs">% treated</text>
<text x="111.7" y="263.7" font-size="9" text-anchor="middle" fill="#111" textLength="85" lengthAdjust="spacingAndGlyphs">C1-CLL (CLL, Binet A)</text>
<polyline points="50.4,387.2 51.75,387.2 51.75,387.02 53.1,387.02 53.1,386.85 54.45,386.85 54.45,386.68 55.8,386.68 55.8,386.5 57.14,386.5 57.14,386.16 58.47,386.16 58.47,385.82 59.81,385.82 59.81,385.49 61.15,385.49 61.15,385.15 62.49,385.15 62.49,384.81 63.83,384.81 63.83,384.48 65.16,384.48 65.16,384.14 66.5,384.14 66.5,383.8 67.86,383.8 67.86,383.04 69.21,383.04 69.21,382.29 70.57,382.29 70.57,381.53 71.93,381.53 71.93,380.77 73.29,380.77 73.29,380.01 74.64,380.01 74.64,379.26 76,379.26 76,378.5 77.33,378.5 77.33,377.7 78.67,377.7 78.67,376.9 80,376.9 80,376.1 81.33,376.1 81.33,375.3 82.67,375.3 82.67,374.5 84,374.5 84,373.7 85.36,373.7 85.36,373.51 86.71,373.51 86.71,373.33 88.07,373.33 88.07,373.14 89.43,373.14 89.43,372.96 90.79,372.96 90.79,372.77 92.14,372.77 92.14,372.59 93.5,372.59 93.5,372.4 94.84,372.4 94.84,371.18 96.18,371.18 96.18,369.96 97.52,369.96 97.52,368.74 98.86,368.74 98.86,367.52 100.2,367.52 100.2,366.3 101.54,366.3 101.54,366.04 102.88,366.04 102.88,365.78 104.22,365.78 104.22,365.52 105.56,365.52 105.56,365.26 106.9,365.26 106.9,365 108.45,365 108.45,364.2 110,364.2 110,363.4 111.25,363.4 111.25,362.8 112.5,362.8 112.5,362.2 113.75,362.2 113.75,361.6 115,361.6 115,361 116.1,361 116.1,360.4 117.2,360.4 117.2,359.8 118.62,359.8 118.62,359.24 120.04,359.24 120.04,358.68 121.46,358.68 121.46,358.12 122.88,358.12 122.88,357.56 124.3,357.56 124.3,357 125.54,357 125.54,356.69 126.79,356.69 126.79,356.37 128.03,356.37 128.03,356.06 129.27,356.06 129.27,355.74 130.51,355.74 130.51,355.43 131.76,355.43 131.76,355.11 133,355.11 133,354.8 134.42,354.8 134.42,354.22 135.84,354.22 135.84,353.64 137.26,353.64 137.26,353.06 138.68,353.06 138.68,352.48 140.1,352.48 140.1,351.9 141.33,351.9 141.33,351.7 142.56,351.7 142.56,351.5 143.79,351.5 143.79,351.3 145.01,351.3 145.01,351.1 146.24,351.1 146.24,350.9 147.47,350.9 147.47,350.7 148.7,350.7 148.7,350.5 158.8,350.5 160.23,350.5 160.23,349.77 161.65,349.77 161.65,349.05 163.07,349.05 163.07,348.33 164.5,348.33 164.5,347.6 165.95,347.6 165.95,347.08 167.4,347.08 167.4,346.55 168.85,346.55 168.85,346.02 170.3,346.02 170.3,345.5 177.4,345.5" fill="none" stroke="#25428c" stroke-width="1.5" stroke-linejoin="miter"/>
<line x1="107.85" y1="363.31" x2="107.85" y2="365.71" stroke="#25428c" stroke-width="0.7"/>
<line x1="121.49" y1="356.91" x2="121.49" y2="359.31" stroke="#25428c" stroke-width="0.7"/>
<line x1="167.77" y1="345.21" x2="167.77" y2="347.61" stroke="#25428c" stroke-width="0.7"/>
<line x1="109.54" y1="362.44" x2="109.54" y2="364.84" stroke="#25428c" stroke-width="0.7"/>
<line x1="114.9" y1="359.85" x2="114.9" y2="362.25" stroke="#25428c" stroke-width="0.7"/>
<line x1="125" y1="355.62" x2="125" y2="358.02" stroke="#25428c" stroke-width="0.7"/>
<line x1="73.85" y1="378.5" x2="73.85" y2="380.9" stroke="#25428c" stroke-width="0.7"/>
<line x1="115.41" y1="359.58" x2="115.41" y2="361.98" stroke="#25428c" stroke-width="0.7"/>
<line x1="130.4" y1="354.26" x2="130.4" y2="356.66" stroke="#25428c" stroke-width="0.7"/>
<line x1="151.11" y1="349.3" x2="151.11" y2="351.7" stroke="#25428c" stroke-width="0.7"/>
<line x1="62.35" y1="383.65" x2="62.35" y2="386.05" stroke="#25428c" stroke-width="0.7"/>
<line x1="88.93" y1="371.83" x2="88.93" y2="374.23" stroke="#25428c" stroke-width="0.7"/>
<line x1="61.92" y1="383.76" x2="61.92" y2="386.16" stroke="#25428c" stroke-width="0.7"/>
<line x1="153.22" y1="349.3" x2="153.22" y2="351.7" stroke="#25428c" stroke-width="0.7"/>
<line x1="138.47" y1="351.37" x2="138.47" y2="353.77" stroke="#25428c" stroke-width="0.7"/>
<line x1="55.72" y1="385.31" x2="55.72" y2="387.71" stroke="#25428c" stroke-width="0.7"/>
<line x1="175.14" y1="344.3" x2="175.14" y2="346.7" stroke="#25428c" stroke-width="0.7"/>
<line x1="172.92" y1="344.3" x2="172.92" y2="346.7" stroke="#25428c" stroke-width="0.7"/>
<line x1="133.45" y1="353.42" x2="133.45" y2="355.82" stroke="#25428c" stroke-width="0.7"/>
<line x1="128.58" y1="354.72" x2="128.58" y2="357.12" stroke="#25428c" stroke-width="0.7"/>
<line x1="70.4" y1="380.42" x2="70.4" y2="382.82" stroke="#25428c" stroke-width="0.7"/>
<line x1="52.31" y1="385.75" x2="52.31" y2="388.15" stroke="#25428c" stroke-width="0.7"/>
<line x1="117.5" y1="358.48" x2="117.5" y2="360.88" stroke="#25428c" stroke-width="0.7"/>
<line x1="57.96" y1="384.75" x2="57.96" y2="387.15" stroke="#25428c" stroke-width="0.7"/>
<line x1="74.56" y1="378.11" x2="74.56" y2="380.51" stroke="#25428c" stroke-width="0.7"/>
<line x1="81.13" y1="374.22" x2="81.13" y2="376.62" stroke="#25428c" stroke-width="0.7"/>
<line x1="54.22" y1="385.5" x2="54.22" y2="387.9" stroke="#25428c" stroke-width="0.7"/>
<line x1="109.32" y1="362.55" x2="109.32" y2="364.95" stroke="#25428c" stroke-width="0.7"/>
<line x1="106.35" y1="363.91" x2="106.35" y2="366.31" stroke="#25428c" stroke-width="0.7"/>
<line x1="157.39" y1="349.3" x2="157.39" y2="351.7" stroke="#25428c" stroke-width="0.7"/>
<line x1="116.33" y1="359.08" x2="116.33" y2="361.48" stroke="#25428c" stroke-width="0.7"/>
<line x1="131.72" y1="353.92" x2="131.72" y2="356.32" stroke="#25428c" stroke-width="0.7"/>
<line x1="113.87" y1="360.34" x2="113.87" y2="362.74" stroke="#25428c" stroke-width="0.7"/>
<line x1="134.53" y1="352.97" x2="134.53" y2="355.37" stroke="#25428c" stroke-width="0.7"/>
<line x1="108.48" y1="362.98" x2="108.48" y2="365.38" stroke="#25428c" stroke-width="0.7"/>
<line x1="85.73" y1="372.26" x2="85.73" y2="374.66" stroke="#25428c" stroke-width="0.7"/>
<line x1="177.1" y1="344.3" x2="177.1" y2="346.7" stroke="#25428c" stroke-width="0.7"/>
<line x1="176.85" y1="344.3" x2="176.85" y2="346.7" stroke="#25428c" stroke-width="0.7"/>
<line x1="157.11" y1="349.3" x2="157.11" y2="351.7" stroke="#25428c" stroke-width="0.7"/>
<line x1="140.29" y1="350.67" x2="140.29" y2="353.07" stroke="#25428c" stroke-width="0.7"/>
<polyline points="50.4,387.2 54.4,387.2 54.4,383.2 65.2,383.2 65.2,377.8 66.9,377.8 66.9,374.4 68.6,374.4 68.6,371 78,371 78,363 80,363 80,360.3 82,360.3 82,357.6 90.8,357.6 90.8,352.9 99.5,352.9 99.5,347.5 101.5,347.5 101.5,345.5 103.5,345.5 103.5,343.5 131.2,343.5 131.2,339.7 151.6,339.7 151.6,334.7 177.4,334.7 177.4,334.7" fill="none" stroke="#f3c22a" stroke-width="1.4" stroke-linejoin="miter"/>
<line x1="136.54" y1="338.5" x2="136.54" y2="340.9" stroke="#f3c22a" stroke-width="0.7"/>
<line x1="150.63" y1="338.5" x2="150.63" y2="340.9" stroke="#f3c22a" stroke-width="0.7"/>
<line x1="151.31" y1="338.5" x2="151.31" y2="340.9" stroke="#f3c22a" stroke-width="0.7"/>
<line x1="110.98" y1="342.3" x2="110.98" y2="344.7" stroke="#f3c22a" stroke-width="0.7"/>
<line x1="100.84" y1="346.3" x2="100.84" y2="348.7" stroke="#f3c22a" stroke-width="0.7"/>
<line x1="128.86" y1="342.3" x2="128.86" y2="344.7" stroke="#f3c22a" stroke-width="0.7"/>
<line x1="121.1" y1="342.3" x2="121.1" y2="344.7" stroke="#f3c22a" stroke-width="0.7"/>
<line x1="162.4" y1="333.5" x2="162.4" y2="335.9" stroke="#f3c22a" stroke-width="0.7"/>
<line x1="153.18" y1="333.5" x2="153.18" y2="335.9" stroke="#f3c22a" stroke-width="0.7"/>
<line x1="146.31" y1="338.5" x2="146.31" y2="340.9" stroke="#f3c22a" stroke-width="0.7"/>
<line x1="142.98" y1="338.5" x2="142.98" y2="340.9" stroke="#f3c22a" stroke-width="0.7"/>
<line x1="150.92" y1="338.5" x2="150.92" y2="340.9" stroke="#f3c22a" stroke-width="0.7"/>
<polyline points="50.4,387.2 52.4,387.2 52.4,382.15 54.4,382.15 54.4,377.1 55.77,377.1 55.77,374.87 57.13,374.87 57.13,372.63 58.5,372.63 58.5,370.4 60.15,370.4 60.15,368.05 61.8,368.05 61.8,365.7 63.5,365.7 63.5,363.35 65.2,363.35 65.2,361 66.9,361 66.9,357.95 68.6,357.95 68.6,354.9 70.25,354.9 70.25,352.55 71.9,352.55 71.9,350.2 73.9,350.2 73.9,343.5 75.6,343.5 75.6,340.8 77.3,340.8 77.3,338.1 79,338.1 79,334.7 80.7,334.7 80.7,331.3 82.13,331.3 82.13,330.2 83.57,330.2 83.57,329.1 85,329.1 85,328 86.55,328 86.55,323.4 88.1,323.4 88.1,318.8 89.65,318.8 89.65,318 91.2,318 91.2,317.2 92.73,317.2 92.73,315.17 94.27,315.17 94.27,313.13 95.8,313.13 95.8,311.1 97.33,311.1 97.33,309.8 98.87,309.8 98.87,308.5 100.4,308.5 100.4,307.2 101.93,307.2 101.93,305.85 103.45,305.85 103.45,304.5 104.97,304.5 104.97,303.15 106.5,303.15 106.5,301.8 108.05,301.8 108.05,300.85 109.6,300.85 109.6,299.9 111.15,299.9 111.15,298.95 112.7,298.95 112.7,298 114.22,298 114.22,297.05 115.75,297.05 115.75,296.1 117.28,296.1 117.28,295.15 118.8,295.15 118.8,294.2 120.63,294.2 120.63,293.6 122.47,293.6 122.47,293 124.3,293 124.3,292.4 125.8,292.4 125.8,289.5 127.22,289.5 127.22,289.12 128.65,289.12 128.65,288.75 130.07,288.75 130.07,288.38 131.5,288.38 131.5,288 133.7,288 133.7,285.2 135.13,285.2 135.13,284 136.57,284 136.57,282.8 138,282.8 138,281.6 150.2,281.6" fill="none" stroke="#5cab3c" stroke-width="1.5" stroke-linejoin="miter"/>
<line x1="109.25" y1="298.92" x2="109.25" y2="301.32" stroke="#5cab3c" stroke-width="0.7"/>
<line x1="132.69" y1="285.29" x2="132.69" y2="287.69" stroke="#5cab3c" stroke-width="0.7"/>
<line x1="132.62" y1="285.37" x2="132.62" y2="287.77" stroke="#5cab3c" stroke-width="0.7"/>
<line x1="141.71" y1="280.4" x2="141.71" y2="282.8" stroke="#5cab3c" stroke-width="0.7"/>
<line x1="105.21" y1="301.74" x2="105.21" y2="304.14" stroke="#5cab3c" stroke-width="0.7"/>
<line x1="107.68" y1="299.88" x2="107.68" y2="302.28" stroke="#5cab3c" stroke-width="0.7"/>
<line x1="103.09" y1="303.62" x2="103.09" y2="306.02" stroke="#5cab3c" stroke-width="0.7"/>
<line x1="107.38" y1="300.06" x2="107.38" y2="302.46" stroke="#5cab3c" stroke-width="0.7"/>
<line x1="135.37" y1="282.6" x2="135.37" y2="285" stroke="#5cab3c" stroke-width="0.7"/>
<line x1="102.16" y1="304.44" x2="102.16" y2="306.84" stroke="#5cab3c" stroke-width="0.7"/>
<line x1="124.22" y1="291.23" x2="124.22" y2="293.63" stroke="#5cab3c" stroke-width="0.7"/>
<line x1="106.76" y1="300.44" x2="106.76" y2="302.84" stroke="#5cab3c" stroke-width="0.7"/>
<line x1="111.21" y1="297.72" x2="111.21" y2="300.12" stroke="#5cab3c" stroke-width="0.7"/>
<line x1="118.74" y1="293.04" x2="118.74" y2="295.44" stroke="#5cab3c" stroke-width="0.7"/>
<line x1="150.2" y1="279.9" x2="150.2" y2="283.3" stroke="#5cab3c" stroke-width="0.8"/>
<line x1="50.3" y1="272.8" x2="58.5" y2="272.8" stroke="#25428c" stroke-width="1.5"/>
<text x="62.3" y="274.6" font-size="4.6" fill="#222">m–CLL</text>
<line x1="50.3" y1="278.2" x2="58.5" y2="278.2" stroke="#f3c22a" stroke-width="1.5"/>
<text x="62.3" y="280" font-size="4.6" fill="#222">i–CLL</text>
<line x1="50.3" y1="283.4" x2="58.5" y2="283.4" stroke="#5cab3c" stroke-width="1.5"/>
<text x="62.3" y="285.2" font-size="4.6" fill="#222">n–CLL</text>
<text x="172" y="275.8" font-size="4.6" fill="#222" text-anchor="end"><tspan font-style="italic">P</tspan> &lt; 0.001</text>
<rect x="148" y="368.2" width="22.5" height="5.4" fill="#fff" stroke="#333" stroke-width="0.6"/>
<text x="149.5" y="372.2" font-size="4.3" fill="#333" textLength="19.8" lengthAdjust="spacing">P &lt; 0.001</text>
<rect x="125" y="373.6" width="23" height="6.1" fill="#fff" stroke="#333" stroke-width="0.6"/>
<text x="126.5" y="378.3" font-size="4.3" fill="#333" textLength="19.8" lengthAdjust="spacing">P &lt; 0.001</text>
<rect x="148" y="373.6" width="22.5" height="6.1" fill="#fff" stroke="#333" stroke-width="0.6"/>
<text x="149.5" y="378.3" font-size="4.3" fill="#333" textLength="19.8" lengthAdjust="spacing">P = 0.072</text>
<rect x="170.5" y="368.2" width="4.5" height="5.4" fill="#5cab3c" stroke="#222" stroke-width="0.5"/>
<rect x="170.5" y="373.6" width="4.5" height="6.1" fill="#3d70c2" stroke="#222" stroke-width="0.5"/>
<rect x="125" y="379.7" width="23" height="4.5" fill="#5cab3c" stroke="#333" stroke-width="0.5"/>
<rect x="148" y="379.7" width="22.5" height="4.5" fill="#f3c22a" stroke="#333" stroke-width="0.5"/>
<text x="147.7" y="389.2" font-size="5.2" text-anchor="middle" font-style="italic" fill="#222" textLength="56" lengthAdjust="spacingAndGlyphs">pairwise comparisons</text>
<text x="21.4" y="428.3" font-size="6.8" fill="#111" textLength="34.5" lengthAdjust="spacingAndGlyphs">No. at risk:</text>
<line x1="21.4" y1="437.1" x2="36.7" y2="437.1" stroke="#25428c" stroke-width="1.5"/>
<text x="50.5" y="439.2" font-size="6" text-anchor="middle" fill="#111">221</text>
<text x="75" y="439.2" font-size="6" text-anchor="middle" fill="#111">204</text>
<text x="99.5" y="439.2" font-size="6" text-anchor="middle" fill="#111">177</text>
<text x="124" y="439.2" font-size="6" text-anchor="middle" fill="#111">125</text>
<text x="148.5" y="439.2" font-size="6" text-anchor="middle" fill="#111">86</text>
<text x="173" y="439.2" font-size="6" text-anchor="middle" fill="#111">55</text>
<line x1="21.4" y1="446.8" x2="36.7" y2="446.8" stroke="#f3c22a" stroke-width="1.5"/>
<text x="50.5" y="448.9" font-size="6" text-anchor="middle" fill="#111">50</text>
<text x="75" y="448.9" font-size="6" text-anchor="middle" fill="#111">43</text>
<text x="99.5" y="448.9" font-size="6" text-anchor="middle" fill="#111">32</text>
<text x="124" y="448.9" font-size="6" text-anchor="middle" fill="#111">22</text>
<text x="148.5" y="448.9" font-size="6" text-anchor="middle" fill="#111">10</text>
<text x="173" y="448.9" font-size="6" text-anchor="middle" fill="#111">8</text>
<line x1="21.4" y1="456.2" x2="36.7" y2="456.2" stroke="#5cab3c" stroke-width="1.5"/>
<text x="50.5" y="458.3" font-size="6" text-anchor="middle" fill="#111">113</text>
<text x="75" y="458.3" font-size="6" text-anchor="middle" fill="#111">67</text>
<text x="99.5" y="458.3" font-size="6" text-anchor="middle" fill="#111">32</text>
<text x="124" y="458.3" font-size="6" text-anchor="middle" fill="#111">12</text>
<text x="148.5" y="458.3" font-size="6" text-anchor="middle" fill="#111">1</text>
<text x="173" y="458.3" font-size="6" text-anchor="middle" fill="#111">0</text>
<text x="193.8" y="253.6" font-size="12.6" font-weight="bold">E</text>
<line x1="231.6" y1="267.6" x2="364.4" y2="267.6" stroke="#111" stroke-width="1"/>
<line x1="364.4" y1="267.1" x2="364.4" y2="392.2" stroke="#111" stroke-width="1.4"/>
<line x1="231.6" y1="267.1" x2="231.6" y2="392.8" stroke="#000" stroke-width="1.25"/>
<line x1="231" y1="392.2" x2="365" y2="392.2" stroke="#000" stroke-width="1.25"/>
<line x1="228.2" y1="387.3" x2="231.6" y2="387.3" stroke="#000" stroke-width="1"/>
<text x="226" y="389.8" font-size="7" text-anchor="end" fill="#111">0</text>
<line x1="228.2" y1="364.36" x2="231.6" y2="364.36" stroke="#000" stroke-width="1"/>
<text x="226" y="366.86" font-size="7" text-anchor="end" fill="#111">20</text>
<line x1="228.2" y1="341.42" x2="231.6" y2="341.42" stroke="#000" stroke-width="1"/>
<text x="226" y="343.92" font-size="7" text-anchor="end" fill="#111">40</text>
<line x1="228.2" y1="318.48" x2="231.6" y2="318.48" stroke="#000" stroke-width="1"/>
<text x="226" y="320.98" font-size="7" text-anchor="end" fill="#111">60</text>
<line x1="228.2" y1="295.54" x2="231.6" y2="295.54" stroke="#000" stroke-width="1"/>
<text x="226" y="298.04" font-size="7" text-anchor="end" fill="#111">80</text>
<line x1="228.2" y1="272.6" x2="231.6" y2="272.6" stroke="#000" stroke-width="1"/>
<text x="226" y="275.1" font-size="7" text-anchor="end" fill="#111">100</text>
<line x1="237" y1="392.2" x2="237" y2="395.2" stroke="#000" stroke-width="1"/>
<text x="237" y="404.8" font-size="7" text-anchor="middle" fill="#111">0</text>
<line x1="261.6" y1="392.2" x2="261.6" y2="395.2" stroke="#000" stroke-width="1"/>
<text x="261.6" y="404.8" font-size="7" text-anchor="middle" fill="#111">3</text>
<line x1="286.2" y1="392.2" x2="286.2" y2="395.2" stroke="#000" stroke-width="1"/>
<text x="286.2" y="404.8" font-size="7" text-anchor="middle" fill="#111">6</text>
<line x1="310.8" y1="392.2" x2="310.8" y2="395.2" stroke="#000" stroke-width="1"/>
<text x="310.8" y="404.8" font-size="7" text-anchor="middle" fill="#111">9</text>
<line x1="335.4" y1="392.2" x2="335.4" y2="395.2" stroke="#000" stroke-width="1"/>
<text x="335.4" y="404.8" font-size="7" text-anchor="middle" fill="#111">12</text>
<line x1="360" y1="392.2" x2="360" y2="395.2" stroke="#000" stroke-width="1"/>
<text x="360" y="404.8" font-size="7" text-anchor="middle" fill="#111">15</text>
<text x="298" y="417.6" font-size="10.5" text-anchor="middle" fill="#111" textLength="90.5" lengthAdjust="spacingAndGlyphs" stroke="#111" stroke-width="0.1">Time from diagnosis (years)</text>
<text x="0" y="0" font-size="10.4" text-anchor="middle" fill="#111" stroke="#111" stroke-width="0.12" transform="translate(208.2,329.9) rotate(-90)" textLength="30.6" lengthAdjust="spacingAndGlyphs">% treated</text>
<text x="298" y="263.5" font-size="9" text-anchor="middle" fill="#111" textLength="85" lengthAdjust="spacingAndGlyphs">C1-CLL (CLL, Binet A)</text>
<polyline points="237,387.3 238.35,387.3 238.35,387.12 239.7,387.12 239.7,386.95 241.05,386.95 241.05,386.78 242.4,386.78 242.4,386.6 243.74,386.6 243.74,386.26 245.07,386.26 245.07,385.93 246.41,385.93 246.41,385.59 247.75,385.59 247.75,385.25 249.09,385.25 249.09,384.91 250.42,384.91 250.42,384.58 251.76,384.58 251.76,384.24 253.1,384.24 253.1,383.9 254.46,383.9 254.46,383.14 255.81,383.14 255.81,382.39 257.17,382.39 257.17,381.63 258.53,381.63 258.53,380.87 259.89,380.87 259.89,380.11 261.24,380.11 261.24,379.36 262.6,379.36 262.6,378.6 263.93,378.6 263.93,377.8 265.27,377.8 265.27,377 266.6,377 266.6,376.2 267.93,376.2 267.93,375.4 269.27,375.4 269.27,374.6 270.6,374.6 270.6,373.8 271.96,373.8 271.96,373.61 273.31,373.61 273.31,373.43 274.67,373.43 274.67,373.24 276.03,373.24 276.03,373.06 277.39,373.06 277.39,372.87 278.74,372.87 278.74,372.69 280.1,372.69 280.1,372.5 281.44,372.5 281.44,371.28 282.78,371.28 282.78,370.06 284.12,370.06 284.12,368.84 285.46,368.84 285.46,367.62 286.8,367.62 286.8,366.4 288.14,366.4 288.14,366.14 289.48,366.14 289.48,365.88 290.82,365.88 290.82,365.62 292.16,365.62 292.16,365.36 293.5,365.36 293.5,365.1 295.05,365.1 295.05,364.3 296.6,364.3 296.6,363.5 297.85,363.5 297.85,362.9 299.1,362.9 299.1,362.3 300.35,362.3 300.35,361.7 301.6,361.7 301.6,361.1 302.7,361.1 302.7,360.5 303.8,360.5 303.8,359.9 305.22,359.9 305.22,359.34 306.64,359.34 306.64,358.78 308.06,358.78 308.06,358.22 309.48,358.22 309.48,357.66 310.9,357.66 310.9,357.1 312.14,357.1 312.14,356.79 313.39,356.79 313.39,356.47 314.63,356.47 314.63,356.16 315.87,356.16 315.87,355.84 317.11,355.84 317.11,355.53 318.36,355.53 318.36,355.21 319.6,355.21 319.6,354.9 321.02,354.9 321.02,354.32 322.44,354.32 322.44,353.74 323.86,353.74 323.86,353.16 325.28,353.16 325.28,352.58 326.7,352.58 326.7,352 327.93,352 327.93,351.8 329.16,351.8 329.16,351.6 330.39,351.6 330.39,351.4 331.61,351.4 331.61,351.2 332.84,351.2 332.84,351 334.07,351 334.07,350.8 335.3,350.8 335.3,350.6 345.4,350.6 346.82,350.6 346.82,349.88 348.25,349.88 348.25,349.15 349.68,349.15 349.68,348.43 351.1,348.43 351.1,347.7 352.55,347.7 352.55,347.18 354,347.18 354,346.65 355.45,346.65 355.45,346.12 356.9,346.12 356.9,345.6 363.8,345.6" fill="none" stroke="#25428c" stroke-width="1.5" stroke-linejoin="miter"/>
<line x1="257.92" y1="380.01" x2="257.92" y2="382.41" stroke="#25428c" stroke-width="0.7"/>
<line x1="324.46" y1="351.71" x2="324.46" y2="354.11" stroke="#25428c" stroke-width="0.7"/>
<line x1="317.52" y1="354.23" x2="317.52" y2="356.63" stroke="#25428c" stroke-width="0.7"/>
<line x1="297.75" y1="361.75" x2="297.75" y2="364.15" stroke="#25428c" stroke-width="0.7"/>
<line x1="264.39" y1="376.33" x2="264.39" y2="378.73" stroke="#25428c" stroke-width="0.7"/>
<line x1="337.51" y1="349.4" x2="337.51" y2="351.8" stroke="#25428c" stroke-width="0.7"/>
<line x1="339.44" y1="349.4" x2="339.44" y2="351.8" stroke="#25428c" stroke-width="0.7"/>
<line x1="301.98" y1="359.69" x2="301.98" y2="362.09" stroke="#25428c" stroke-width="0.7"/>
<line x1="301.04" y1="360.17" x2="301.04" y2="362.57" stroke="#25428c" stroke-width="0.7"/>
<line x1="266.93" y1="374.8" x2="266.93" y2="377.2" stroke="#25428c" stroke-width="0.7"/>
<line x1="237.4" y1="386.05" x2="237.4" y2="388.45" stroke="#25428c" stroke-width="0.7"/>
<line x1="284.05" y1="367.7" x2="284.05" y2="370.1" stroke="#25428c" stroke-width="0.7"/>
<line x1="311.22" y1="355.82" x2="311.22" y2="358.22" stroke="#25428c" stroke-width="0.7"/>
<line x1="245.78" y1="384.55" x2="245.78" y2="386.95" stroke="#25428c" stroke-width="0.7"/>
<line x1="337.65" y1="349.4" x2="337.65" y2="351.8" stroke="#25428c" stroke-width="0.7"/>
<line x1="266.45" y1="375.09" x2="266.45" y2="377.49" stroke="#25428c" stroke-width="0.7"/>
<line x1="266.51" y1="375.06" x2="266.51" y2="377.46" stroke="#25428c" stroke-width="0.7"/>
<line x1="242.37" y1="385.4" x2="242.37" y2="387.8" stroke="#25428c" stroke-width="0.7"/>
<line x1="363.49" y1="344.4" x2="363.49" y2="346.8" stroke="#25428c" stroke-width="0.7"/>
<line x1="330.67" y1="350.15" x2="330.67" y2="352.55" stroke="#25428c" stroke-width="0.7"/>
<line x1="347.96" y1="348.1" x2="347.96" y2="350.5" stroke="#25428c" stroke-width="0.7"/>
<line x1="315.09" y1="354.84" x2="315.09" y2="357.24" stroke="#25428c" stroke-width="0.7"/>
<line x1="241.32" y1="385.54" x2="241.32" y2="387.94" stroke="#25428c" stroke-width="0.7"/>
<line x1="278.71" y1="371.49" x2="278.71" y2="373.89" stroke="#25428c" stroke-width="0.7"/>
<line x1="300.09" y1="360.62" x2="300.09" y2="363.02" stroke="#25428c" stroke-width="0.7"/>
<line x1="251.68" y1="383.06" x2="251.68" y2="385.46" stroke="#25428c" stroke-width="0.7"/>
<line x1="357.71" y1="344.4" x2="357.71" y2="346.8" stroke="#25428c" stroke-width="0.7"/>
<line x1="283.72" y1="368.01" x2="283.72" y2="370.41" stroke="#25428c" stroke-width="0.7"/>
<line x1="256.63" y1="380.73" x2="256.63" y2="383.13" stroke="#25428c" stroke-width="0.7"/>
<line x1="340.66" y1="349.4" x2="340.66" y2="351.8" stroke="#25428c" stroke-width="0.7"/>
<line x1="252.83" y1="382.77" x2="252.83" y2="385.17" stroke="#25428c" stroke-width="0.7"/>
<line x1="354.66" y1="345.21" x2="354.66" y2="347.61" stroke="#25428c" stroke-width="0.7"/>
<line x1="294.46" y1="363.41" x2="294.46" y2="365.81" stroke="#25428c" stroke-width="0.7"/>
<line x1="306.99" y1="357.44" x2="306.99" y2="359.84" stroke="#25428c" stroke-width="0.7"/>
<line x1="280.48" y1="370.95" x2="280.48" y2="373.35" stroke="#25428c" stroke-width="0.7"/>
<line x1="298.46" y1="361.41" x2="298.46" y2="363.81" stroke="#25428c" stroke-width="0.7"/>
<line x1="260.7" y1="378.46" x2="260.7" y2="380.86" stroke="#25428c" stroke-width="0.7"/>
<line x1="241.71" y1="385.49" x2="241.71" y2="387.89" stroke="#25428c" stroke-width="0.7"/>
<line x1="346.79" y1="348.69" x2="346.79" y2="351.09" stroke="#25428c" stroke-width="0.7"/>
<line x1="266.78" y1="374.89" x2="266.78" y2="377.29" stroke="#25428c" stroke-width="0.7"/>
<polyline points="237.2,387.3 250.2,387.3 250.2,383.3 254,383.3 254,380 264,380 264,374.6 284,374.6 284,370 286.5,370 286.5,367 289.5,367 289.5,363 318.2,363 318.2,357.5 338,357.5 338,350 363.7,350 363.7,350" fill="none" stroke="#f3c22a" stroke-width="1.4" stroke-linejoin="miter"/>
<line x1="359.95" y1="348.8" x2="359.95" y2="351.2" stroke="#f3c22a" stroke-width="0.7"/>
<line x1="300.25" y1="361.8" x2="300.25" y2="364.2" stroke="#f3c22a" stroke-width="0.7"/>
<line x1="291.72" y1="361.8" x2="291.72" y2="364.2" stroke="#f3c22a" stroke-width="0.7"/>
<line x1="362.9" y1="348.8" x2="362.9" y2="351.2" stroke="#f3c22a" stroke-width="0.7"/>
<line x1="303.45" y1="361.8" x2="303.45" y2="364.2" stroke="#f3c22a" stroke-width="0.7"/>
<line x1="298.8" y1="361.8" x2="298.8" y2="364.2" stroke="#f3c22a" stroke-width="0.7"/>
<line x1="337.55" y1="356.3" x2="337.55" y2="358.7" stroke="#f3c22a" stroke-width="0.7"/>
<line x1="315.23" y1="361.8" x2="315.23" y2="364.2" stroke="#f3c22a" stroke-width="0.7"/>
<line x1="354.94" y1="348.8" x2="354.94" y2="351.2" stroke="#f3c22a" stroke-width="0.7"/>
<line x1="306.92" y1="361.8" x2="306.92" y2="364.2" stroke="#f3c22a" stroke-width="0.7"/>
<polyline points="237,387.3 239,387.3 239,382.25 241,382.25 241,377.2 242.37,377.2 242.37,374.97 243.73,374.97 243.73,372.73 245.1,372.73 245.1,370.5 246.75,370.5 246.75,368.15 248.4,368.15 248.4,365.8 250.1,365.8 250.1,363.45 251.8,363.45 251.8,361.1 253.5,361.1 253.5,358.05 255.2,358.05 255.2,355 256.85,355 256.85,352.65 258.5,352.65 258.5,350.3 260.5,350.3 260.5,343.6 262.2,343.6 262.2,340.9 263.9,340.9 263.9,338.2 265.6,338.2 265.6,334.8 267.3,334.8 267.3,331.4 268.73,331.4 268.73,330.3 270.17,330.3 270.17,329.2 271.6,329.2 271.6,328.1 273.15,328.1 273.15,323.5 274.7,323.5 274.7,318.9 276.25,318.9 276.25,318.1 277.8,318.1 277.8,317.3 279.33,317.3 279.33,315.27 280.87,315.27 280.87,313.23 282.4,313.23 282.4,311.2 283.93,311.2 283.93,309.9 285.47,309.9 285.47,308.6 287,308.6 287,307.3 288.52,307.3 288.52,305.95 290.05,305.95 290.05,304.6 291.58,304.6 291.58,303.25 293.1,303.25 293.1,301.9 294.65,301.9 294.65,300.95 296.2,300.95 296.2,300 297.75,300 297.75,299.05 299.3,299.05 299.3,298.1 300.82,298.1 300.82,297.15 302.35,297.15 302.35,296.2 303.88,296.2 303.88,295.25 305.4,295.25 305.4,294.3 307.23,294.3 307.23,293.7 309.07,293.7 309.07,293.1 310.9,293.1 310.9,292.5 312.4,292.5 312.4,289.6 313.82,289.6 313.82,289.23 315.25,289.23 315.25,288.85 316.68,288.85 316.68,288.48 318.1,288.48 318.1,288.1 320.3,288.1 320.3,285.3 321.73,285.3 321.73,284.1 323.17,284.1 323.17,282.9 324.6,282.9 324.6,281.7 336.8,281.7" fill="none" stroke="#5cab3c" stroke-width="1.5" stroke-linejoin="miter"/>
<line x1="331.87" y1="280.5" x2="331.87" y2="282.9" stroke="#5cab3c" stroke-width="0.7"/>
<line x1="333.17" y1="280.5" x2="333.17" y2="282.9" stroke="#5cab3c" stroke-width="0.7"/>
<line x1="330.08" y1="280.5" x2="330.08" y2="282.9" stroke="#5cab3c" stroke-width="0.7"/>
<line x1="285.6" y1="307.29" x2="285.6" y2="309.69" stroke="#5cab3c" stroke-width="0.7"/>
<line x1="313.56" y1="288.09" x2="313.56" y2="290.49" stroke="#5cab3c" stroke-width="0.7"/>
<line x1="304.31" y1="293.78" x2="304.31" y2="296.18" stroke="#5cab3c" stroke-width="0.7"/>
<line x1="310.15" y1="291.54" x2="310.15" y2="293.94" stroke="#5cab3c" stroke-width="0.7"/>
<line x1="288.17" y1="305.07" x2="288.17" y2="307.47" stroke="#5cab3c" stroke-width="0.7"/>
<line x1="291.56" y1="302.06" x2="291.56" y2="304.46" stroke="#5cab3c" stroke-width="0.7"/>
<line x1="305.45" y1="293.08" x2="305.45" y2="295.48" stroke="#5cab3c" stroke-width="0.7"/>
<line x1="293.16" y1="300.66" x2="293.16" y2="303.06" stroke="#5cab3c" stroke-width="0.7"/>
<line x1="306.03" y1="292.89" x2="306.03" y2="295.29" stroke="#5cab3c" stroke-width="0.7"/>
<line x1="282.36" y1="310.05" x2="282.36" y2="312.45" stroke="#5cab3c" stroke-width="0.7"/>
<line x1="285.72" y1="307.19" x2="285.72" y2="309.59" stroke="#5cab3c" stroke-width="0.7"/>
<polyline points="237.2,387.3 237.9,387.3 237.9,379.65 242.5,379.65 242.5,372 254.1,372 254.1,364.35 254.5,364.35 254.5,356.7 263.3,356.7 263.3,349.05 263.6,349.05 263.6,341.4 265.2,341.4 265.2,333.75 267.9,333.75 267.9,326.1 268.2,326.1 268.2,318.45 276.4,318.45 276.4,310.8 276.8,310.8 276.8,303.15 284.8,303.15 284.8,295.5 312.1,295.5 312.1,295.5" fill="none" stroke="#b56a2c" stroke-width="1.4" stroke-linejoin="miter"/>
<line x1="312.1" y1="293.8" x2="312.1" y2="297.2" stroke="#b56a2c" stroke-width="0.8"/>
<line x1="336.8" y1="280" x2="336.8" y2="283.4" stroke="#5cab3c" stroke-width="0.8"/>
<line x1="236.9" y1="273" x2="245.3" y2="273" stroke="#25428c" stroke-width="1.5"/>
<text x="247.6" y="274.8" font-size="4.6" fill="#222">m–CLL</text>
<line x1="236.9" y1="279" x2="245.3" y2="279" stroke="#f3c22a" stroke-width="1.5"/>
<text x="247.6" y="280.8" font-size="4.6" fill="#222">i–CLL w/o IGLV3–21<tspan font-size="2.6" dy="-2">R110</tspan></text>
<line x1="236.9" y1="284.6" x2="245.3" y2="284.6" stroke="#b56a2c" stroke-width="1.5"/>
<text x="247.6" y="286.4" font-size="4.6" fill="#222">i–CLL w/ IGLV3–21<tspan font-size="2.6" dy="-2">R110</tspan></text>
<line x1="236.9" y1="290.1" x2="245.3" y2="290.1" stroke="#5cab3c" stroke-width="1.5"/>
<text x="247.6" y="291.9" font-size="4.6" fill="#222">n–CLL</text>
<text x="358.5" y="276.4" font-size="4.6" fill="#222" text-anchor="end"><tspan font-style="italic">P</tspan> &lt; 0.001</text>
<rect x="334.5" y="362.5" width="22.5" height="5.7" fill="#fff" stroke="#333" stroke-width="0.6"/>
<text x="336" y="366.8" font-size="4.3" fill="#333" textLength="19.8" lengthAdjust="spacing">P &lt; 0.001</text>
<rect x="311.7" y="368.2" width="22.8" height="6.1" fill="#fff" stroke="#333" stroke-width="0.6"/>
<text x="313.2" y="372.9" font-size="4.3" fill="#333" textLength="17.6" lengthAdjust="spacing">P = 0.90</text>
<rect x="334.5" y="368.2" width="22.5" height="6.1" fill="#fff" stroke="#333" stroke-width="0.6"/>
<text x="336" y="372.9" font-size="4.3" fill="#333" textLength="19.8" lengthAdjust="spacing">P &lt; 0.001</text>
<rect x="288.7" y="374.3" width="23" height="5.8" fill="#fff" stroke="#333" stroke-width="0.6"/>
<text x="290.2" y="378.7" font-size="4.3" fill="#333" textLength="19.8" lengthAdjust="spacing">P &lt; 0.001</text>
<rect x="311.7" y="374.3" width="22.8" height="5.8" fill="#fff" stroke="#333" stroke-width="0.6"/>
<text x="313.2" y="378.7" font-size="4.3" fill="#333" textLength="19.8" lengthAdjust="spacing">P &lt; 0.001</text>
<rect x="334.5" y="374.3" width="22.5" height="5.8" fill="#fff" stroke="#333" stroke-width="0.6"/>
<text x="336" y="378.7" font-size="4.3" fill="#333" textLength="17.6" lengthAdjust="spacing">P = 0.68</text>
<rect x="357" y="362.5" width="4.4" height="5.7" fill="#b56a2c" stroke="#222" stroke-width="0.5"/>
<rect x="357" y="368.2" width="4.4" height="6.1" fill="#5cab3c" stroke="#222" stroke-width="0.5"/>
<rect x="357" y="374.3" width="4.4" height="5.8" fill="#3d70c2" stroke="#222" stroke-width="0.5"/>
<rect x="288.7" y="380.1" width="23" height="4.4" fill="#5cab3c" stroke="#333" stroke-width="0.5"/>
<rect x="311.7" y="380.1" width="22.8" height="4.4" fill="#b56a2c" stroke="#333" stroke-width="0.5"/>
<rect x="334.5" y="380.1" width="22.5" height="4.4" fill="#f3c22a" stroke="#333" stroke-width="0.5"/>
<text x="323.6" y="389.8" font-size="5.2" text-anchor="middle" font-style="italic" fill="#222" textLength="55" lengthAdjust="spacingAndGlyphs">pairwise comparisons</text>
<text x="209" y="428.8" font-size="6.8" fill="#111" textLength="34.5" lengthAdjust="spacingAndGlyphs">No. at risk:</text>
<line x1="209" y1="436.8" x2="224.7" y2="436.8" stroke="#25428c" stroke-width="1.5"/>
<text x="237" y="438.9" font-size="6" text-anchor="middle" fill="#111">221</text>
<text x="261.6" y="438.9" font-size="6" text-anchor="middle" fill="#111">204</text>
<text x="286.2" y="438.9" font-size="6" text-anchor="middle" fill="#111">177</text>
<text x="310.8" y="438.9" font-size="6" text-anchor="middle" fill="#111">125</text>
<text x="335.4" y="438.9" font-size="6" text-anchor="middle" fill="#111">86</text>
<text x="360" y="438.9" font-size="6" text-anchor="middle" fill="#111">55</text>
<line x1="209" y1="446.6" x2="224.7" y2="446.6" stroke="#f3c22a" stroke-width="1.5"/>
<text x="237" y="448.7" font-size="6" text-anchor="middle" fill="#111">33</text>
<text x="261.6" y="448.7" font-size="6" text-anchor="middle" fill="#111">30</text>
<text x="286.2" y="448.7" font-size="6" text-anchor="middle" fill="#111">27</text>
<text x="310.8" y="448.7" font-size="6" text-anchor="middle" fill="#111">19</text>
<text x="335.4" y="448.7" font-size="6" text-anchor="middle" fill="#111">9</text>
<text x="360" y="448.7" font-size="6" text-anchor="middle" fill="#111">7</text>
<line x1="209" y1="456.5" x2="224.7" y2="456.5" stroke="#b56a2c" stroke-width="1.5"/>
<text x="237" y="458.6" font-size="6" text-anchor="middle" fill="#111">15</text>
<text x="261.6" y="458.6" font-size="6" text-anchor="middle" fill="#111">11</text>
<text x="286.2" y="458.6" font-size="6" text-anchor="middle" fill="#111">3</text>
<text x="310.8" y="458.6" font-size="6" text-anchor="middle" fill="#111">1</text>
<text x="335.4" y="458.6" font-size="6" text-anchor="middle" fill="#111">0</text>
<text x="360" y="458.6" font-size="6" text-anchor="middle" fill="#111">0</text>
<line x1="209" y1="466" x2="224.7" y2="466" stroke="#5cab3c" stroke-width="1.5"/>
<text x="237" y="468.1" font-size="6" text-anchor="middle" fill="#111">113</text>
<text x="261.6" y="468.1" font-size="6" text-anchor="middle" fill="#111">67</text>
<text x="286.2" y="468.1" font-size="6" text-anchor="middle" fill="#111">32</text>
<text x="310.8" y="468.1" font-size="6" text-anchor="middle" fill="#111">12</text>
<text x="335.4" y="468.1" font-size="6" text-anchor="middle" fill="#111">1</text>
<text x="360" y="468.1" font-size="6" text-anchor="middle" fill="#111">0</text>
<text x="385.3" y="18.3" font-size="12.6" font-weight="bold">C</text>
<rect x="428.3" y="44.2" width="54.1" height="37.6" fill="none" stroke="#000" stroke-width="1.25"/>
<line x1="435.31" y1="44.8" x2="435.31" y2="81.2" stroke="#000" stroke-width="1.15" stroke-dasharray="3.8,2.6" stroke-dashoffset="2"/>
<line x1="428.7" y1="81.8" x2="428.7" y2="84.1" stroke="#000" stroke-width="0.9"/>
<text x="428.7" y="92.6" font-size="5.5" text-anchor="middle" fill="#222">0</text>
<line x1="435.31" y1="81.8" x2="435.31" y2="84.1" stroke="#000" stroke-width="0.9"/>
<text x="435.31" y="92.6" font-size="5.5" text-anchor="middle" fill="#222">1</text>
<line x1="441.92" y1="81.8" x2="441.92" y2="84.1" stroke="#000" stroke-width="0.9"/>
<text x="441.92" y="92.6" font-size="5.5" text-anchor="middle" fill="#222">2</text>
<line x1="448.53" y1="81.8" x2="448.53" y2="84.1" stroke="#000" stroke-width="0.9"/>
<text x="448.53" y="92.6" font-size="5.5" text-anchor="middle" fill="#222">3</text>
<line x1="455.14" y1="81.8" x2="455.14" y2="84.1" stroke="#000" stroke-width="0.9"/>
<text x="455.14" y="92.6" font-size="5.5" text-anchor="middle" fill="#222">4</text>
<line x1="461.75" y1="81.8" x2="461.75" y2="84.1" stroke="#000" stroke-width="0.9"/>
<text x="461.75" y="92.6" font-size="5.5" text-anchor="middle" fill="#222">5</text>
<line x1="468.36" y1="81.8" x2="468.36" y2="84.1" stroke="#000" stroke-width="0.9"/>
<text x="468.36" y="92.6" font-size="5.5" text-anchor="middle" fill="#222">6</text>
<line x1="474.97" y1="81.8" x2="474.97" y2="84.1" stroke="#000" stroke-width="0.9"/>
<text x="474.97" y="92.6" font-size="5.5" text-anchor="middle" fill="#222">7</text>
<line x1="481.58" y1="81.8" x2="481.58" y2="84.1" stroke="#000" stroke-width="0.9"/>
<text x="481.58" y="92.6" font-size="5.5" text-anchor="middle" fill="#222">8</text>
<text x="455.65" y="102.9" font-size="7.6" text-anchor="middle" fill="#222" textLength="29.5" lengthAdjust="spacingAndGlyphs" stroke="#222" stroke-width="0.14">Hazard ratio</text>
<text x="455.65" y="111.8" font-size="4.6" text-anchor="middle" fill="#333" textLength="90" lengthAdjust="spacingAndGlyphs">[n=361; n events=186; n comp. events=43]</text>
<text x="455.95" y="32.3" font-size="9.2" text-anchor="middle" fill="#111" textLength="110.4" lengthAdjust="spacingAndGlyphs">TTFT (C1-CLL: CLL, Binet A)</text>
<text x="485.4" y="41.8" font-size="4.7" fill="#333"><tspan font-style="italic">P</tspan> value</text>
<line x1="452.5" y1="51.6" x2="471" y2="51.6" stroke="#b8283f" stroke-width="0.9"/>
<line x1="452.5" y1="50.2" x2="452.5" y2="53" stroke="#b8283f" stroke-width="0.8"/>
<line x1="471" y1="50.2" x2="471" y2="53" stroke="#b8283f" stroke-width="0.8"/>
<circle cx="460.43" cy="51.6" r="1.75" fill="#b8283f"/>
<text x="425.9" y="53.3" font-size="4.85" text-anchor="end" fill="#222">U-IGHV</text>
<text x="485.1" y="53.35" font-size="4.85" fill="#b8283f">&lt;0.001</text>
<line x1="442.25" y1="63.2" x2="477.61" y2="63.2" stroke="#b8283f" stroke-width="0.9"/>
<line x1="442.25" y1="61.8" x2="442.25" y2="64.6" stroke="#b8283f" stroke-width="0.8"/>
<line x1="477.61" y1="61.8" x2="477.61" y2="64.6" stroke="#b8283f" stroke-width="0.8"/>
<circle cx="454.15" cy="63.2" r="1.75" fill="#b8283f"/>
<text x="425.9" y="64.9" font-size="4.85" fill="#222" text-anchor="end">IGLV3-21<tspan font-size="2.5" dy="-1.9">R110</tspan></text>
<text x="485.1" y="64.95" font-size="4.85" fill="#b8283f">&lt;0.001</text>
<line x1="431.01" y1="75.5" x2="442.25" y2="75.5" stroke="#3d5f9e" stroke-width="0.9"/>
<line x1="431.01" y1="74.1" x2="431.01" y2="76.9" stroke="#3d5f9e" stroke-width="0.8"/>
<line x1="442.25" y1="74.1" x2="442.25" y2="76.9" stroke="#3d5f9e" stroke-width="0.8"/>
<circle cx="433.33" cy="75.5" r="1.75" fill="#3d5f9e"/>
<text x="425.9" y="77.2" font-size="4.85" text-anchor="end" fill="#222">Subset #2</text>
<text x="485.1" y="77.25" font-size="4.85" fill="#3d5f9e">0.42</text>
<rect x="428.3" y="142" width="54.1" height="48.5" fill="none" stroke="#000" stroke-width="1.25"/>
<line x1="437.62" y1="142.6" x2="437.62" y2="189.9" stroke="#000" stroke-width="1.15" stroke-dasharray="3.8,2.6" stroke-dashoffset="2"/>
<line x1="428.8" y1="190.5" x2="428.8" y2="192.8" stroke="#000" stroke-width="0.9"/>
<text x="428.8" y="201.3" font-size="5.5" text-anchor="middle" fill="#222">0</text>
<line x1="437.62" y1="190.5" x2="437.62" y2="192.8" stroke="#000" stroke-width="0.9"/>
<text x="437.62" y="201.3" font-size="5.5" text-anchor="middle" fill="#222">1</text>
<line x1="446.44" y1="190.5" x2="446.44" y2="192.8" stroke="#000" stroke-width="0.9"/>
<text x="446.44" y="201.3" font-size="5.5" text-anchor="middle" fill="#222">2</text>
<line x1="455.26" y1="190.5" x2="455.26" y2="192.8" stroke="#000" stroke-width="0.9"/>
<text x="455.26" y="201.3" font-size="5.5" text-anchor="middle" fill="#222">3</text>
<line x1="464.08" y1="190.5" x2="464.08" y2="192.8" stroke="#000" stroke-width="0.9"/>
<text x="464.08" y="201.3" font-size="5.5" text-anchor="middle" fill="#222">4</text>
<line x1="472.9" y1="190.5" x2="472.9" y2="192.8" stroke="#000" stroke-width="0.9"/>
<text x="472.9" y="201.3" font-size="5.5" text-anchor="middle" fill="#222">5</text>
<line x1="481.72" y1="190.5" x2="481.72" y2="192.8" stroke="#000" stroke-width="0.9"/>
<text x="481.72" y="201.3" font-size="5.5" text-anchor="middle" fill="#222">6</text>
<text x="455.65" y="211.6" font-size="7.6" text-anchor="middle" fill="#222" textLength="29.5" lengthAdjust="spacingAndGlyphs" stroke="#222" stroke-width="0.14">Hazard ratio</text>
<text x="455.65" y="220.3" font-size="4.6" text-anchor="middle" fill="#333" textLength="48" lengthAdjust="spacingAndGlyphs">[n=415; n events=140]</text>
<text x="455.95" y="130.4" font-size="9.2" text-anchor="middle" fill="#111" textLength="68.6" lengthAdjust="spacingAndGlyphs">OS (C1-CLL: CLL)</text>
<text x="485.4" y="139.6" font-size="4.7" fill="#333"><tspan font-style="italic">P</tspan> value</text>
<line x1="454.82" y1="148.7" x2="482.2" y2="148.7" stroke="#b8283f" stroke-width="0.9"/>
<line x1="454.82" y1="147.3" x2="454.82" y2="150.1" stroke="#b8283f" stroke-width="0.8"/>
<line x1="482.2" y1="147.3" x2="482.2" y2="150.1" stroke="#b8283f" stroke-width="0.8"/>
<circle cx="465.4" cy="148.7" r="1.75" fill="#b8283f"/>
<text x="425.9" y="150.4" font-size="4.85" text-anchor="end" fill="#222">U-IGHV</text>
<text x="485.1" y="150.45" font-size="4.85" fill="#b8283f">&lt;0.001</text>
<line x1="437.18" y1="160.2" x2="464.08" y2="160.2" stroke="#3d5f9e" stroke-width="0.9"/>
<line x1="437.18" y1="158.8" x2="437.18" y2="161.6" stroke="#3d5f9e" stroke-width="0.8"/>
<line x1="464.08" y1="158.8" x2="464.08" y2="161.6" stroke="#3d5f9e" stroke-width="0.8"/>
<circle cx="445.56" cy="160.2" r="1.75" fill="#3d5f9e"/>
<text x="425.9" y="161.9" font-size="4.85" fill="#222" text-anchor="end">IGLV3-21<tspan font-size="2.5" dy="-1.9">R110</tspan></text>
<text x="485.1" y="161.95" font-size="4.85" fill="#3d5f9e">0.108</text>
<line x1="433.65" y1="172.3" x2="440.27" y2="172.3" stroke="#3d5f9e" stroke-width="0.9"/>
<line x1="433.65" y1="170.9" x2="433.65" y2="173.7" stroke="#3d5f9e" stroke-width="0.8"/>
<line x1="440.27" y1="170.9" x2="440.27" y2="173.7" stroke="#3d5f9e" stroke-width="0.8"/>
<circle cx="436.47" cy="172.3" r="1.75" fill="#3d5f9e"/>
<text x="425.9" y="170.9" font-size="4.85" text-anchor="end" fill="#222">Binet stage</text>
<text x="425.9" y="176.4" font-size="4.85" text-anchor="end" fill="#222">(B/C vs A)</text>
<text x="485.1" y="174.05" font-size="4.85" fill="#3d5f9e">0.47</text>
<line x1="430.56" y1="184" x2="452.61" y2="184" stroke="#3d5f9e" stroke-width="0.9"/>
<line x1="430.56" y1="182.6" x2="430.56" y2="185.4" stroke="#3d5f9e" stroke-width="0.8"/>
<line x1="452.61" y1="182.6" x2="452.61" y2="185.4" stroke="#3d5f9e" stroke-width="0.8"/>
<circle cx="433.65" cy="184" r="1.75" fill="#3d5f9e"/>
<text x="425.9" y="185.7" font-size="4.85" text-anchor="end" fill="#222">Subset #2</text>
<text x="485.1" y="185.75" font-size="4.85" fill="#3d5f9e">0.47</text>
<text x="386" y="253.6" font-size="12.6" font-weight="bold">F</text>
<rect x="428.2" y="274.2" width="54.2" height="50" fill="none" stroke="#000" stroke-width="1.25"/>
<line x1="432.58" y1="274.8" x2="432.58" y2="323.6" stroke="#000" stroke-width="1.15" stroke-dasharray="3.8,2.6" stroke-dashoffset="2"/>
<line x1="428.8" y1="324.2" x2="428.8" y2="326.5" stroke="#000" stroke-width="0.9"/>
<text x="428.8" y="335" font-size="5.5" text-anchor="middle" fill="#222">0</text>
<line x1="436.36" y1="324.2" x2="436.36" y2="326.5" stroke="#000" stroke-width="0.9"/>
<text x="436.36" y="335" font-size="5.5" text-anchor="middle" fill="#222">2</text>
<line x1="443.92" y1="324.2" x2="443.92" y2="326.5" stroke="#000" stroke-width="0.9"/>
<text x="443.92" y="335" font-size="5.5" text-anchor="middle" fill="#222">4</text>
<line x1="451.48" y1="324.2" x2="451.48" y2="326.5" stroke="#000" stroke-width="0.9"/>
<text x="451.48" y="335" font-size="5.5" text-anchor="middle" fill="#222">6</text>
<line x1="459.04" y1="324.2" x2="459.04" y2="326.5" stroke="#000" stroke-width="0.9"/>
<text x="459.04" y="335" font-size="5.5" text-anchor="middle" fill="#222">8</text>
<line x1="466.6" y1="324.2" x2="466.6" y2="326.5" stroke="#000" stroke-width="0.9"/>
<text x="466.6" y="335" font-size="5.5" text-anchor="middle" fill="#222">10</text>
<line x1="474.16" y1="324.2" x2="474.16" y2="326.5" stroke="#000" stroke-width="0.9"/>
<text x="474.16" y="335" font-size="5.5" text-anchor="middle" fill="#222">12</text>
<line x1="481.72" y1="324.2" x2="481.72" y2="326.5" stroke="#000" stroke-width="0.9"/>
<text x="481.72" y="335" font-size="5.5" text-anchor="middle" fill="#222">14</text>
<text x="455.6" y="344.9" font-size="7.6" text-anchor="middle" fill="#222" textLength="29.5" lengthAdjust="spacingAndGlyphs" stroke="#222" stroke-width="0.14">Hazard ratio</text>
<text x="455.6" y="354.2" font-size="4.6" text-anchor="middle" fill="#333" textLength="91" lengthAdjust="spacingAndGlyphs">[n=358; n events=184; n comp. events=43]</text>
<text x="455.9" y="265.6" font-size="9.2" text-anchor="middle" fill="#111" textLength="110.4" lengthAdjust="spacingAndGlyphs">TTFT (C1-CLL: CLL, Binet A)</text>
<text x="485.4" y="272.4" font-size="4.7" fill="#333"><tspan font-style="italic">P</tspan> value</text>
<line x1="439.38" y1="281.7" x2="482.2" y2="281.7" stroke="#b8283f" stroke-width="0.9"/>
<line x1="439.38" y1="280.3" x2="439.38" y2="283.1" stroke="#b8283f" stroke-width="0.8"/>
<line x1="482.2" y1="280.3" x2="482.2" y2="283.1" stroke="#b8283f" stroke-width="0.8"/>
<circle cx="452.24" cy="281.7" r="1.75" fill="#b8283f"/>
<text x="425.8" y="283.4" font-size="4.85" fill="#222" text-anchor="end">IGLV3-21<tspan font-size="2.5" dy="-1.9">R110</tspan></text>
<text x="485.1" y="283.45" font-size="4.85" fill="#b8283f">&lt;0.001</text>
<line x1="445.05" y1="293.3" x2="459.04" y2="293.3" stroke="#b8283f" stroke-width="0.9"/>
<line x1="445.05" y1="291.9" x2="445.05" y2="294.7" stroke="#b8283f" stroke-width="0.8"/>
<line x1="459.04" y1="291.9" x2="459.04" y2="294.7" stroke="#b8283f" stroke-width="0.8"/>
<circle cx="451.1" cy="293.3" r="1.75" fill="#b8283f"/>
<text x="425.8" y="295" font-size="4.85" text-anchor="end" fill="#222">n–CLL</text>
<text x="485.1" y="295.05" font-size="4.85" fill="#b8283f">&lt;0.001</text>
<line x1="430.31" y1="305.4" x2="443.54" y2="305.4" stroke="#3d5f9e" stroke-width="0.9"/>
<line x1="430.31" y1="304" x2="430.31" y2="306.8" stroke="#3d5f9e" stroke-width="0.8"/>
<line x1="443.54" y1="304" x2="443.54" y2="306.8" stroke="#3d5f9e" stroke-width="0.8"/>
<circle cx="434.09" cy="305.4" r="1.75" fill="#3d5f9e"/>
<text x="425.8" y="307.1" font-size="4.85" text-anchor="end" fill="#222">Subset #2</text>
<text x="485.1" y="307.15" font-size="4.85" fill="#3d5f9e">0.53</text>
<line x1="429.93" y1="317" x2="434.85" y2="317" stroke="#3d5f9e" stroke-width="0.9"/>
<line x1="429.93" y1="315.6" x2="429.93" y2="318.4" stroke="#3d5f9e" stroke-width="0.8"/>
<line x1="434.85" y1="315.6" x2="434.85" y2="318.4" stroke="#3d5f9e" stroke-width="0.8"/>
<circle cx="431.45" cy="317" r="1.75" fill="#3d5f9e"/>
<text x="425.8" y="318.7" font-size="4.85" text-anchor="end" fill="#222">i–CLL</text>
<text x="485.1" y="318.75" font-size="4.85" fill="#3d5f9e">0.53</text>
<text x="385.9" y="373.8" font-size="12.6" font-weight="bold">I</text>
<rect x="428.3" y="386.8" width="54.1" height="51.4" fill="none" stroke="#000" stroke-width="1.25"/>
<line x1="435.26" y1="387.4" x2="435.26" y2="437.6" stroke="#000" stroke-width="1.15" stroke-dasharray="3.8,2.6" stroke-dashoffset="2"/>
<line x1="428.6" y1="438.2" x2="428.6" y2="440.5" stroke="#000" stroke-width="0.9"/>
<text x="428.6" y="449" font-size="5.5" text-anchor="middle" fill="#222">0</text>
<line x1="435.26" y1="438.2" x2="435.26" y2="440.5" stroke="#000" stroke-width="0.9"/>
<text x="435.26" y="449" font-size="5.5" text-anchor="middle" fill="#222">1</text>
<line x1="441.92" y1="438.2" x2="441.92" y2="440.5" stroke="#000" stroke-width="0.9"/>
<text x="441.92" y="449" font-size="5.5" text-anchor="middle" fill="#222">2</text>
<line x1="448.58" y1="438.2" x2="448.58" y2="440.5" stroke="#000" stroke-width="0.9"/>
<text x="448.58" y="449" font-size="5.5" text-anchor="middle" fill="#222">3</text>
<line x1="455.24" y1="438.2" x2="455.24" y2="440.5" stroke="#000" stroke-width="0.9"/>
<text x="455.24" y="449" font-size="5.5" text-anchor="middle" fill="#222">4</text>
<line x1="461.9" y1="438.2" x2="461.9" y2="440.5" stroke="#000" stroke-width="0.9"/>
<text x="461.9" y="449" font-size="5.5" text-anchor="middle" fill="#222">5</text>
<line x1="468.56" y1="438.2" x2="468.56" y2="440.5" stroke="#000" stroke-width="0.9"/>
<text x="468.56" y="449" font-size="5.5" text-anchor="middle" fill="#222">6</text>
<line x1="475.22" y1="438.2" x2="475.22" y2="440.5" stroke="#000" stroke-width="0.9"/>
<text x="475.22" y="449" font-size="5.5" text-anchor="middle" fill="#222">7</text>
<line x1="481.88" y1="438.2" x2="481.88" y2="440.5" stroke="#000" stroke-width="0.9"/>
<text x="481.88" y="449" font-size="5.5" text-anchor="middle" fill="#222">8</text>
<text x="455.65" y="459.5" font-size="7.6" text-anchor="middle" fill="#222" textLength="29.5" lengthAdjust="spacingAndGlyphs" stroke="#222" stroke-width="0.14">Hazard ratio</text>
<text x="455.65" y="468.9" font-size="4.6" text-anchor="middle" fill="#333" textLength="48" lengthAdjust="spacingAndGlyphs">[n=412; n events=138]</text>
<text x="455.95" y="375.5" font-size="9.2" text-anchor="middle" fill="#111" textLength="68.6" lengthAdjust="spacingAndGlyphs">OS (C1-CLL: CLL)</text>
<text x="485.4" y="385.2" font-size="4.7" fill="#333"><tspan font-style="italic">P</tspan> value</text>
<line x1="450.58" y1="392" x2="476.22" y2="392" stroke="#b8283f" stroke-width="0.9"/>
<line x1="450.58" y1="390.6" x2="450.58" y2="393.4" stroke="#b8283f" stroke-width="0.8"/>
<line x1="476.22" y1="390.6" x2="476.22" y2="393.4" stroke="#b8283f" stroke-width="0.8"/>
<circle cx="460.24" cy="392" r="1.75" fill="#b8283f"/>
<text x="425.9" y="393.7" font-size="4.85" text-anchor="end" fill="#222">n–CLL</text>
<text x="485.1" y="393.75" font-size="4.85" fill="#b8283f">&lt;0.001</text>
<line x1="437.59" y1="401.8" x2="474.89" y2="401.8" stroke="#b8283f" stroke-width="0.9"/>
<line x1="437.59" y1="400.4" x2="437.59" y2="403.2" stroke="#b8283f" stroke-width="0.8"/>
<line x1="474.89" y1="400.4" x2="474.89" y2="403.2" stroke="#b8283f" stroke-width="0.8"/>
<circle cx="448.58" cy="401.8" r="1.75" fill="#b8283f"/>
<text x="425.9" y="403.5" font-size="4.85" fill="#222" text-anchor="end">IGLV3-21<tspan font-size="2.5" dy="-1.9">R110</tspan></text>
<text x="485.1" y="403.55" font-size="4.85" fill="#b8283f">0.011</text>
<line x1="433.93" y1="411.2" x2="445.25" y2="411.2" stroke="#3d5f9e" stroke-width="0.9"/>
<line x1="433.93" y1="409.8" x2="433.93" y2="412.6" stroke="#3d5f9e" stroke-width="0.8"/>
<line x1="445.25" y1="409.8" x2="445.25" y2="412.6" stroke="#3d5f9e" stroke-width="0.8"/>
<circle cx="437.92" cy="411.2" r="1.75" fill="#3d5f9e"/>
<text x="425.9" y="412.9" font-size="4.85" text-anchor="end" fill="#222">i–CLL</text>
<text x="485.1" y="412.95" font-size="4.85" fill="#3d5f9e">0.32</text>
<line x1="432.6" y1="421.7" x2="437.92" y2="421.7" stroke="#3d5f9e" stroke-width="0.9"/>
<line x1="432.6" y1="420.3" x2="432.6" y2="423.1" stroke="#3d5f9e" stroke-width="0.8"/>
<line x1="437.92" y1="420.3" x2="437.92" y2="423.1" stroke="#3d5f9e" stroke-width="0.8"/>
<circle cx="434.79" cy="421.7" r="1.75" fill="#3d5f9e"/>
<text x="425.9" y="420.3" font-size="4.85" text-anchor="end" fill="#222">Binet stage</text>
<text x="425.9" y="425.8" font-size="4.85" text-anchor="end" fill="#222">(B/C vs A)</text>
<text x="485.1" y="423.45" font-size="4.85" fill="#3d5f9e">0.66</text>
<line x1="430.6" y1="432" x2="451.24" y2="432" stroke="#3d5f9e" stroke-width="0.9"/>
<line x1="430.6" y1="430.6" x2="430.6" y2="433.4" stroke="#3d5f9e" stroke-width="0.8"/>
<line x1="451.24" y1="430.6" x2="451.24" y2="433.4" stroke="#3d5f9e" stroke-width="0.8"/>
<circle cx="433.4" cy="432" r="1.75" fill="#3d5f9e"/>
<text x="425.9" y="433.7" font-size="4.85" text-anchor="end" fill="#222">Subset #2</text>
<text x="485.1" y="433.75" font-size="4.85" fill="#3d5f9e">0.67</text>
<text x="9.1" y="489.9" font-size="12.6" font-weight="bold">G</text>
<line x1="45.4" y1="501.7" x2="177.8" y2="501.7" stroke="#111" stroke-width="1"/>
<line x1="177.8" y1="501.2" x2="177.8" y2="626.3" stroke="#111" stroke-width="1.4"/>
<line x1="45.4" y1="501.2" x2="45.4" y2="626.9" stroke="#000" stroke-width="1.25"/>
<line x1="44.8" y1="626.3" x2="178.4" y2="626.3" stroke="#000" stroke-width="1.25"/>
<line x1="42" y1="621.2" x2="45.4" y2="621.2" stroke="#000" stroke-width="1"/>
<text x="39.8" y="623.7" font-size="7" text-anchor="end" fill="#111">0</text>
<line x1="42" y1="598.34" x2="45.4" y2="598.34" stroke="#000" stroke-width="1"/>
<text x="39.8" y="600.84" font-size="7" text-anchor="end" fill="#111">20</text>
<line x1="42" y1="575.48" x2="45.4" y2="575.48" stroke="#000" stroke-width="1"/>
<text x="39.8" y="577.98" font-size="7" text-anchor="end" fill="#111">40</text>
<line x1="42" y1="552.62" x2="45.4" y2="552.62" stroke="#000" stroke-width="1"/>
<text x="39.8" y="555.12" font-size="7" text-anchor="end" fill="#111">60</text>
<line x1="42" y1="529.76" x2="45.4" y2="529.76" stroke="#000" stroke-width="1"/>
<text x="39.8" y="532.26" font-size="7" text-anchor="end" fill="#111">80</text>
<line x1="42" y1="506.9" x2="45.4" y2="506.9" stroke="#000" stroke-width="1"/>
<text x="39.8" y="509.4" font-size="7" text-anchor="end" fill="#111">100</text>
<line x1="45.4" y1="626.3" x2="45.4" y2="629.3" stroke="#000" stroke-width="1"/>
<text x="45.4" y="638.9" font-size="7" text-anchor="middle" fill="#111">0</text>
<line x1="71.9" y1="626.3" x2="71.9" y2="629.3" stroke="#000" stroke-width="1"/>
<text x="71.9" y="638.9" font-size="7" text-anchor="middle" fill="#111">5</text>
<line x1="98.4" y1="626.3" x2="98.4" y2="629.3" stroke="#000" stroke-width="1"/>
<text x="98.4" y="638.9" font-size="7" text-anchor="middle" fill="#111">10</text>
<line x1="124.9" y1="626.3" x2="124.9" y2="629.3" stroke="#000" stroke-width="1"/>
<text x="124.9" y="638.9" font-size="7" text-anchor="middle" fill="#111">15</text>
<line x1="151.4" y1="626.3" x2="151.4" y2="629.3" stroke="#000" stroke-width="1"/>
<text x="151.4" y="638.9" font-size="7" text-anchor="middle" fill="#111">20</text>
<line x1="177.9" y1="626.3" x2="177.9" y2="629.3" stroke="#000" stroke-width="1"/>
<text x="177.9" y="638.9" font-size="7" text-anchor="middle" fill="#111">25</text>
<text x="111.6" y="651.7" font-size="10.5" text-anchor="middle" fill="#111" textLength="90.5" lengthAdjust="spacingAndGlyphs" stroke="#111" stroke-width="0.1">Time from diagnosis (years)</text>
<text x="0" y="0" font-size="10.4" text-anchor="middle" fill="#111" stroke="#111" stroke-width="0.12" transform="translate(22,564) rotate(-90)" textLength="62.6" lengthAdjust="spacingAndGlyphs">Overall survival (%)</text>
<text x="111.6" y="497.6" font-size="9" text-anchor="middle" fill="#111" textLength="52" lengthAdjust="spacingAndGlyphs">C1-CLL (CLL)</text>
<polyline points="45.4,506.9 55.1,506.9 56.8,506.9 56.8,508.85 58.5,508.85 58.5,510.8 60.27,510.8 60.27,511.9 62.03,511.9 62.03,513 63.8,513 63.8,514.1 65.5,514.1 65.5,514.62 67.2,514.62 67.2,515.15 68.9,515.15 68.9,515.68 70.6,515.68 70.6,516.2 72.6,516.2 72.6,518.85 74.6,518.85 74.6,521.5 76.6,521.5 76.6,524.9 78.6,524.9 78.6,528.3 79.97,528.3 79.97,530.07 81.33,530.07 81.33,531.83 82.7,531.83 82.7,533.6 84.05,533.6 84.05,535.65 85.4,535.65 85.4,537.7 87.2,537.7 87.2,539.5 89,539.5 89,541.3 90.8,541.3 90.8,543.1 92.57,543.1 92.57,546.23 94.33,546.23 94.33,549.37 96.1,549.37 96.1,552.5 97.9,552.5 97.9,554.3 99.7,554.3 99.7,556.1 101.5,556.1 101.5,557.9 103.3,557.9 103.3,559.7 105.1,559.7 105.1,561.5 106.9,561.5 106.9,563.3 108.4,563.3 108.4,564.93 109.9,564.93 109.9,566.57 111.4,566.57 111.4,568.2 113.08,568.2 113.08,568.92 114.77,568.92 114.77,569.63 116.45,569.63 116.45,570.35 118.13,570.35 118.13,571.07 119.82,571.07 119.82,571.78 121.5,571.78 121.5,572.5 123.2,572.5 123.2,575.85 124.9,575.85 124.9,579.2 126.55,579.2 126.55,583 128.2,583 128.2,586.8 129.67,586.8 129.67,587 131.15,587 131.15,587.2 132.62,587.2 132.62,587.4 134.1,587.4 134.1,587.6 134.6,587.6 134.6,591.8 149.8,591.8 149.8,611.2 163.3,611.2 163.3,621.2" fill="none" stroke="#5cab3c" stroke-width="1.5" stroke-linejoin="miter"/>
<line x1="60.98" y1="511.15" x2="60.98" y2="513.55" stroke="#5cab3c" stroke-width="0.7"/>
<line x1="68.99" y1="514.5" x2="68.99" y2="516.9" stroke="#5cab3c" stroke-width="0.7"/>
<line x1="91.43" y1="543.01" x2="91.43" y2="545.41" stroke="#5cab3c" stroke-width="0.7"/>
<line x1="114.71" y1="568.41" x2="114.71" y2="570.81" stroke="#5cab3c" stroke-width="0.7"/>
<line x1="71.1" y1="515.66" x2="71.1" y2="518.06" stroke="#5cab3c" stroke-width="0.7"/>
<line x1="69" y1="514.5" x2="69" y2="516.9" stroke="#5cab3c" stroke-width="0.7"/>
<line x1="78.54" y1="527.01" x2="78.54" y2="529.41" stroke="#5cab3c" stroke-width="0.7"/>
<line x1="120.61" y1="570.92" x2="120.61" y2="573.32" stroke="#5cab3c" stroke-width="0.7"/>
<line x1="71.79" y1="516.58" x2="71.79" y2="518.98" stroke="#5cab3c" stroke-width="0.7"/>
<line x1="119.25" y1="570.34" x2="119.25" y2="572.74" stroke="#5cab3c" stroke-width="0.7"/>
<line x1="112.97" y1="567.67" x2="112.97" y2="570.07" stroke="#5cab3c" stroke-width="0.7"/>
<line x1="70.93" y1="515.43" x2="70.93" y2="517.83" stroke="#5cab3c" stroke-width="0.7"/>
<line x1="102.85" y1="558.05" x2="102.85" y2="560.45" stroke="#5cab3c" stroke-width="0.7"/>
<line x1="95.82" y1="550.8" x2="95.82" y2="553.2" stroke="#5cab3c" stroke-width="0.7"/>
<line x1="93.01" y1="545.81" x2="93.01" y2="548.21" stroke="#5cab3c" stroke-width="0.7"/>
<line x1="139.71" y1="590.6" x2="139.71" y2="593" stroke="#5cab3c" stroke-width="0.7"/>
<line x1="67.45" y1="514.03" x2="67.45" y2="516.43" stroke="#5cab3c" stroke-width="0.7"/>
<line x1="61.63" y1="511.55" x2="61.63" y2="513.95" stroke="#5cab3c" stroke-width="0.7"/>
<line x1="135.18" y1="590.6" x2="135.18" y2="593" stroke="#5cab3c" stroke-width="0.7"/>
<line x1="92.24" y1="544.45" x2="92.24" y2="546.85" stroke="#5cab3c" stroke-width="0.7"/>
<line x1="75.88" y1="522.48" x2="75.88" y2="524.88" stroke="#5cab3c" stroke-width="0.7"/>
<line x1="86.42" y1="537.52" x2="86.42" y2="539.92" stroke="#5cab3c" stroke-width="0.7"/>
<polyline points="45.4,508.1 55.8,508.1 57.8,508.1 57.8,510.1 59.37,510.1 59.37,510.77 60.93,510.77 60.93,511.43 62.5,511.43 62.5,512.1 73.9,512.1 75.27,512.1 75.27,514.33 76.63,514.33 76.63,516.57 78,516.57 78,518.8 79.48,518.8 79.48,519.62 80.96,519.62 80.96,520.44 82.44,520.44 82.44,521.26 83.92,521.26 83.92,522.08 85.4,522.08 85.4,522.9 87.4,522.9 87.4,524.25 89.4,524.25 89.4,525.6 90.97,525.6 90.97,526.05 92.53,526.05 92.53,526.5 94.1,526.5 94.1,526.95 95.67,526.95 95.67,527.4 97.23,527.4 97.23,527.85 98.8,527.85 98.8,528.3 100.6,528.3 100.6,530.53 102.4,530.53 102.4,532.77 104.2,532.77 104.2,535 105.55,535 105.55,537 106.9,537 106.9,539 113.9,539 113.9,543.8 115.15,543.8 115.15,546.15 116.4,546.15 116.4,548.5 142.6,548.5 142.6,555.6 177.2,555.6" fill="none" stroke="#f3c22a" stroke-width="1.5" stroke-linejoin="miter"/>
<line x1="69.06" y1="510.9" x2="69.06" y2="513.3" stroke="#f3c22a" stroke-width="0.7"/>
<line x1="84.99" y1="521.47" x2="84.99" y2="523.87" stroke="#f3c22a" stroke-width="0.7"/>
<line x1="95.47" y1="526.14" x2="95.47" y2="528.54" stroke="#f3c22a" stroke-width="0.7"/>
<line x1="165.33" y1="554.4" x2="165.33" y2="556.8" stroke="#f3c22a" stroke-width="0.7"/>
<line x1="118.06" y1="547.3" x2="118.06" y2="549.7" stroke="#f3c22a" stroke-width="0.7"/>
<line x1="144.27" y1="554.4" x2="144.27" y2="556.8" stroke="#f3c22a" stroke-width="0.7"/>
<line x1="71.73" y1="510.9" x2="71.73" y2="513.3" stroke="#f3c22a" stroke-width="0.7"/>
<line x1="119.54" y1="547.3" x2="119.54" y2="549.7" stroke="#f3c22a" stroke-width="0.7"/>
<line x1="158.64" y1="554.4" x2="158.64" y2="556.8" stroke="#f3c22a" stroke-width="0.7"/>
<line x1="121.17" y1="547.3" x2="121.17" y2="549.7" stroke="#f3c22a" stroke-width="0.7"/>
<line x1="170.53" y1="554.4" x2="170.53" y2="556.8" stroke="#f3c22a" stroke-width="0.7"/>
<line x1="163.17" y1="554.4" x2="163.17" y2="556.8" stroke="#f3c22a" stroke-width="0.7"/>
<line x1="103.4" y1="532.81" x2="103.4" y2="535.21" stroke="#f3c22a" stroke-width="0.7"/>
<line x1="60.09" y1="509.87" x2="60.09" y2="512.27" stroke="#f3c22a" stroke-width="0.7"/>
<line x1="148.37" y1="554.4" x2="148.37" y2="556.8" stroke="#f3c22a" stroke-width="0.7"/>
<line x1="74.79" y1="512.35" x2="74.79" y2="514.75" stroke="#f3c22a" stroke-width="0.7"/>
<polyline points="45.4,506.9 65.2,506.9 66.2,506.9 66.2,508.15 67.2,508.15 67.2,509.4 68.47,509.4 68.47,509.48 69.73,509.48 69.73,509.56 71,509.56 71,509.63 72.27,509.63 72.27,509.71 73.53,509.71 73.53,509.79 74.8,509.79 74.8,509.87 76.07,509.87 76.07,509.94 77.33,509.94 77.33,510.02 78.6,510.02 78.6,510.1 79.96,510.1 79.96,510.5 81.32,510.5 81.32,510.9 82.68,510.9 82.68,511.3 84.04,511.3 84.04,511.7 85.4,511.7 85.4,512.1 86.74,512.1 86.74,512.5 88.08,512.5 88.08,512.9 89.42,512.9 89.42,513.3 90.76,513.3 90.76,513.7 92.1,513.7 92.1,514.1 93.44,514.1 93.44,514.64 94.78,514.64 94.78,515.18 96.12,515.18 96.12,515.72 97.46,515.72 97.46,516.26 98.8,516.26 98.8,516.8 100.16,516.8 100.16,517.2 101.52,517.2 101.52,517.6 102.88,517.6 102.88,518 104.24,518 104.24,518.4 105.6,518.4 105.6,518.8 106.8,518.8 106.8,519.05 108,519.05 108,519.3 109.34,519.3 109.34,519.82 110.68,519.82 110.68,520.34 112.02,520.34 112.02,520.86 113.36,520.86 113.36,521.38 114.7,521.38 114.7,521.9 115.97,521.9 115.97,523.15 117.25,523.15 117.25,524.4 118.53,524.4 118.53,525.65 119.8,525.65 119.8,526.9 121.14,526.9 121.14,527.92 122.48,527.92 122.48,528.94 123.82,528.94 123.82,529.96 125.16,529.96 125.16,530.98 126.5,530.98 126.5,532 127.86,532 127.86,532.34 129.22,532.34 129.22,532.68 130.58,532.68 130.58,533.02 131.94,533.02 131.94,533.36 133.3,533.36 133.3,533.7 134.64,533.7 134.64,533.86 135.98,533.86 135.98,534.02 137.32,534.02 137.32,534.18 138.66,534.18 138.66,534.34 140,534.34 140,534.5 141.43,534.5 141.43,535.33 142.87,535.33 142.87,536.17 144.3,536.17 144.3,537 145.7,537 145.7,537.57 147.1,537.57 147.1,538.13 148.5,538.13 148.5,538.7 150.2,538.7 150.2,545.5 151.45,545.5 151.45,548.85 152.7,548.85 152.7,552.2 154.1,552.2 154.1,552.77 155.5,552.77 155.5,553.33 156.9,553.33 156.9,553.9 158.24,553.9 158.24,554.06 159.58,554.06 159.58,554.22 160.92,554.22 160.92,554.38 162.26,554.38 162.26,554.54 163.6,554.54 163.6,554.7 165.3,554.7 165.3,558.1 166.73,558.1 166.73,558.93 168.17,558.93 168.17,559.77 169.6,559.77 169.6,560.6 172.1,560.6 172.1,571.6 177.2,571.6" fill="none" stroke="#25428c" stroke-width="1.5" stroke-linejoin="miter"/>
<line x1="120.57" y1="526.29" x2="120.57" y2="528.69" stroke="#25428c" stroke-width="0.7"/>
<line x1="128.73" y1="531.36" x2="128.73" y2="533.76" stroke="#25428c" stroke-width="0.7"/>
<line x1="153.08" y1="551.15" x2="153.08" y2="553.55" stroke="#25428c" stroke-width="0.7"/>
<line x1="81.95" y1="509.88" x2="81.95" y2="512.28" stroke="#25428c" stroke-width="0.7"/>
<line x1="131.32" y1="532" x2="131.32" y2="534.4" stroke="#25428c" stroke-width="0.7"/>
<line x1="162.81" y1="553.41" x2="162.81" y2="555.81" stroke="#25428c" stroke-width="0.7"/>
<line x1="165.18" y1="556.67" x2="165.18" y2="559.07" stroke="#25428c" stroke-width="0.7"/>
<line x1="69.98" y1="508.37" x2="69.98" y2="510.77" stroke="#25428c" stroke-width="0.7"/>
<line x1="131.3" y1="532" x2="131.3" y2="534.4" stroke="#25428c" stroke-width="0.7"/>
<line x1="126.74" y1="530.86" x2="126.74" y2="533.26" stroke="#25428c" stroke-width="0.7"/>
<line x1="111.75" y1="519.55" x2="111.75" y2="521.95" stroke="#25428c" stroke-width="0.7"/>
<line x1="172.74" y1="570.4" x2="172.74" y2="572.8" stroke="#25428c" stroke-width="0.7"/>
<line x1="115.03" y1="521.02" x2="115.03" y2="523.42" stroke="#25428c" stroke-width="0.7"/>
<line x1="104.08" y1="517.15" x2="104.08" y2="519.55" stroke="#25428c" stroke-width="0.7"/>
<line x1="169.76" y1="559.4" x2="169.76" y2="561.8" stroke="#25428c" stroke-width="0.7"/>
<line x1="129.17" y1="531.47" x2="129.17" y2="533.87" stroke="#25428c" stroke-width="0.7"/>
<line x1="85.11" y1="510.81" x2="85.11" y2="513.21" stroke="#25428c" stroke-width="0.7"/>
<line x1="86.16" y1="511.13" x2="86.16" y2="513.53" stroke="#25428c" stroke-width="0.7"/>
<line x1="110.79" y1="519.18" x2="110.79" y2="521.58" stroke="#25428c" stroke-width="0.7"/>
<line x1="52.33" y1="505.7" x2="52.33" y2="508.1" stroke="#25428c" stroke-width="0.7"/>
<line x1="125.48" y1="530.02" x2="125.48" y2="532.42" stroke="#25428c" stroke-width="0.7"/>
<line x1="142.39" y1="534.69" x2="142.39" y2="537.09" stroke="#25428c" stroke-width="0.7"/>
<line x1="101.57" y1="516.41" x2="101.57" y2="518.81" stroke="#25428c" stroke-width="0.7"/>
<line x1="156.98" y1="552.71" x2="156.98" y2="555.11" stroke="#25428c" stroke-width="0.7"/>
<line x1="167.71" y1="558.3" x2="167.71" y2="560.7" stroke="#25428c" stroke-width="0.7"/>
<line x1="118.63" y1="524.55" x2="118.63" y2="526.95" stroke="#25428c" stroke-width="0.7"/>
<line x1="135.2" y1="532.73" x2="135.2" y2="535.13" stroke="#25428c" stroke-width="0.7"/>
<line x1="60.85" y1="505.7" x2="60.85" y2="508.1" stroke="#25428c" stroke-width="0.7"/>
<line x1="52.78" y1="505.7" x2="52.78" y2="508.1" stroke="#25428c" stroke-width="0.7"/>
<line x1="174.57" y1="570.4" x2="174.57" y2="572.8" stroke="#25428c" stroke-width="0.7"/>
<line x1="82.89" y1="510.16" x2="82.89" y2="512.56" stroke="#25428c" stroke-width="0.7"/>
<line x1="73.52" y1="508.59" x2="73.52" y2="510.99" stroke="#25428c" stroke-width="0.7"/>
<line x1="163.58" y1="553.5" x2="163.58" y2="555.9" stroke="#25428c" stroke-width="0.7"/>
<line x1="144.23" y1="535.76" x2="144.23" y2="538.16" stroke="#25428c" stroke-width="0.7"/>
<line x1="61.64" y1="505.7" x2="61.64" y2="508.1" stroke="#25428c" stroke-width="0.7"/>
<line x1="87.8" y1="511.62" x2="87.8" y2="514.02" stroke="#25428c" stroke-width="0.7"/>
<line x1="77.38" y1="508.83" x2="77.38" y2="511.23" stroke="#25428c" stroke-width="0.7"/>
<line x1="81.34" y1="509.71" x2="81.34" y2="512.11" stroke="#25428c" stroke-width="0.7"/>
<line x1="46.24" y1="505.7" x2="46.24" y2="508.1" stroke="#25428c" stroke-width="0.7"/>
<line x1="114.55" y1="520.64" x2="114.55" y2="523.04" stroke="#25428c" stroke-width="0.7"/>
<line x1="165.8" y1="507.5" x2="173.8" y2="507.5" stroke="#25428c" stroke-width="1.5"/>
<text x="162.4" y="509.3" font-size="4.6" text-anchor="end" fill="#222">m–CLL</text>
<line x1="165.8" y1="513.1" x2="173.8" y2="513.1" stroke="#f3c22a" stroke-width="1.5"/>
<text x="162.4" y="514.9" font-size="4.6" text-anchor="end" fill="#222">i–CLL</text>
<line x1="165.8" y1="518.5" x2="173.8" y2="518.5" stroke="#5cab3c" stroke-width="1.5"/>
<text x="162.4" y="520.3" font-size="4.6" text-anchor="end" fill="#222">n–CLL</text>
<text x="174.6" y="624" font-size="4.6" fill="#222" text-anchor="end"><tspan font-style="italic">P</tspan> &lt; 0.001</text>
<rect x="53.5" y="602.4" width="22.8" height="5.8" fill="#fff" stroke="#333" stroke-width="0.6"/>
<text x="55" y="606.8" font-size="4.3" fill="#333" textLength="19.8" lengthAdjust="spacing">P &lt; 0.001</text>
<rect x="53.5" y="608.2" width="22.8" height="5.6" fill="#fff" stroke="#333" stroke-width="0.6"/>
<text x="55" y="612.4" font-size="4.3" fill="#333" textLength="19.8" lengthAdjust="spacing">P = 0.054</text>
<rect x="76.3" y="608.2" width="22.7" height="5.6" fill="#fff" stroke="#333" stroke-width="0.6"/>
<text x="77.8" y="612.4" font-size="4.3" fill="#333" textLength="19.8" lengthAdjust="spacing">P &lt; 0.001</text>
<rect x="49.4" y="602.4" width="4.1" height="5.8" fill="#5cab3c" stroke="#222" stroke-width="0.5"/>
<rect x="49.4" y="608.2" width="4.1" height="5.6" fill="#3d70c2" stroke="#222" stroke-width="0.5"/>
<rect x="53.5" y="613.8" width="22.8" height="4.3" fill="#f3c22a" stroke="#333" stroke-width="0.5"/>
<rect x="76.3" y="613.8" width="22.7" height="4.3" fill="#5cab3c" stroke="#333" stroke-width="0.5"/>
<text x="75" y="623.4" font-size="5.2" text-anchor="middle" font-style="italic" fill="#222" textLength="55" lengthAdjust="spacingAndGlyphs">pairwise comparisons</text>
<text x="19.7" y="663.1" font-size="6.8" fill="#111" textLength="34.5" lengthAdjust="spacingAndGlyphs">No. at risk:</text>
<line x1="19.7" y1="671.2" x2="36" y2="671.2" stroke="#25428c" stroke-width="1.5"/>
<text x="45.4" y="673.3" font-size="6" text-anchor="middle" fill="#111">231</text>
<text x="71.9" y="673.3" font-size="6" text-anchor="middle" fill="#111">221</text>
<text x="98.4" y="673.3" font-size="6" text-anchor="middle" fill="#111">154</text>
<text x="124.9" y="673.3" font-size="6" text-anchor="middle" fill="#111">81</text>
<text x="151.4" y="673.3" font-size="6" text-anchor="middle" fill="#111">34</text>
<text x="177.9" y="673.3" font-size="6" text-anchor="middle" fill="#111">10</text>
<line x1="19.7" y1="680.9" x2="36" y2="680.9" stroke="#f3c22a" stroke-width="1.5"/>
<text x="45.4" y="683" font-size="6" text-anchor="middle" fill="#111">64</text>
<text x="71.9" y="683" font-size="6" text-anchor="middle" fill="#111">61</text>
<text x="98.4" y="683" font-size="6" text-anchor="middle" fill="#111">30</text>
<text x="124.9" y="683" font-size="6" text-anchor="middle" fill="#111">14</text>
<text x="151.4" y="683" font-size="6" text-anchor="middle" fill="#111">3</text>
<text x="177.9" y="683" font-size="6" text-anchor="middle" fill="#111">1</text>
<line x1="19.7" y1="690.4" x2="36" y2="690.4" stroke="#5cab3c" stroke-width="1.5"/>
<text x="45.4" y="692.5" font-size="6" text-anchor="middle" fill="#111">152</text>
<text x="71.9" y="692.5" font-size="6" text-anchor="middle" fill="#111">131</text>
<text x="98.4" y="692.5" font-size="6" text-anchor="middle" fill="#111">47</text>
<text x="124.9" y="692.5" font-size="6" text-anchor="middle" fill="#111">12</text>
<text x="151.4" y="692.5" font-size="6" text-anchor="middle" fill="#111">1</text>
<text x="177.9" y="692.5" font-size="6" text-anchor="middle" fill="#111">0</text>
<text x="193.7" y="489.9" font-size="12.6" font-weight="bold">H</text>
<line x1="232.2" y1="501.6" x2="364.4" y2="501.6" stroke="#111" stroke-width="1"/>
<line x1="364.4" y1="501.1" x2="364.4" y2="626.6" stroke="#111" stroke-width="1.4"/>
<line x1="232.2" y1="501.1" x2="232.2" y2="627.2" stroke="#000" stroke-width="1.25"/>
<line x1="231.6" y1="626.6" x2="365" y2="626.6" stroke="#000" stroke-width="1.25"/>
<line x1="228.8" y1="621.1" x2="232.2" y2="621.1" stroke="#000" stroke-width="1"/>
<text x="226.6" y="623.6" font-size="7" text-anchor="end" fill="#111">0</text>
<line x1="228.8" y1="598.2" x2="232.2" y2="598.2" stroke="#000" stroke-width="1"/>
<text x="226.6" y="600.7" font-size="7" text-anchor="end" fill="#111">20</text>
<line x1="228.8" y1="575.3" x2="232.2" y2="575.3" stroke="#000" stroke-width="1"/>
<text x="226.6" y="577.8" font-size="7" text-anchor="end" fill="#111">40</text>
<line x1="228.8" y1="552.4" x2="232.2" y2="552.4" stroke="#000" stroke-width="1"/>
<text x="226.6" y="554.9" font-size="7" text-anchor="end" fill="#111">60</text>
<line x1="228.8" y1="529.5" x2="232.2" y2="529.5" stroke="#000" stroke-width="1"/>
<text x="226.6" y="532" font-size="7" text-anchor="end" fill="#111">80</text>
<line x1="228.8" y1="506.6" x2="232.2" y2="506.6" stroke="#000" stroke-width="1"/>
<text x="226.6" y="509.1" font-size="7" text-anchor="end" fill="#111">100</text>
<line x1="232.2" y1="626.6" x2="232.2" y2="629.6" stroke="#000" stroke-width="1"/>
<text x="232.2" y="639.2" font-size="7" text-anchor="middle" fill="#111">0</text>
<line x1="258.6" y1="626.6" x2="258.6" y2="629.6" stroke="#000" stroke-width="1"/>
<text x="258.6" y="639.2" font-size="7" text-anchor="middle" fill="#111">5</text>
<line x1="285" y1="626.6" x2="285" y2="629.6" stroke="#000" stroke-width="1"/>
<text x="285" y="639.2" font-size="7" text-anchor="middle" fill="#111">10</text>
<line x1="311.4" y1="626.6" x2="311.4" y2="629.6" stroke="#000" stroke-width="1"/>
<text x="311.4" y="639.2" font-size="7" text-anchor="middle" fill="#111">15</text>
<line x1="337.8" y1="626.6" x2="337.8" y2="629.6" stroke="#000" stroke-width="1"/>
<text x="337.8" y="639.2" font-size="7" text-anchor="middle" fill="#111">20</text>
<line x1="364.2" y1="626.6" x2="364.2" y2="629.6" stroke="#000" stroke-width="1"/>
<text x="364.2" y="639.2" font-size="7" text-anchor="middle" fill="#111">25</text>
<text x="298.3" y="652" font-size="10.5" text-anchor="middle" fill="#111" textLength="90.5" lengthAdjust="spacingAndGlyphs" stroke="#111" stroke-width="0.1">Time from diagnosis (years)</text>
<text x="0" y="0" font-size="10.4" text-anchor="middle" fill="#111" stroke="#111" stroke-width="0.12" transform="translate(208.6,564.1) rotate(-90)" textLength="62.6" lengthAdjust="spacingAndGlyphs">Overall survival (%)</text>
<text x="298.3" y="497.5" font-size="9" text-anchor="middle" fill="#111" textLength="52" lengthAdjust="spacingAndGlyphs">C1-CLL (CLL)</text>
<polyline points="232.2,506.8 241.9,506.8 243.6,506.8 243.6,508.75 245.3,508.75 245.3,510.7 247.07,510.7 247.07,511.8 248.83,511.8 248.83,512.9 250.6,512.9 250.6,514 252.3,514 252.3,514.52 254,514.52 254,515.05 255.7,515.05 255.7,515.58 257.4,515.58 257.4,516.1 259.4,516.1 259.4,518.75 261.4,518.75 261.4,521.4 263.4,521.4 263.4,524.8 265.4,524.8 265.4,528.2 266.77,528.2 266.77,529.97 268.13,529.97 268.13,531.73 269.5,531.73 269.5,533.5 270.85,533.5 270.85,535.55 272.2,535.55 272.2,537.6 274,537.6 274,539.4 275.8,539.4 275.8,541.2 277.6,541.2 277.6,543 279.37,543 279.37,546.13 281.13,546.13 281.13,549.27 282.9,549.27 282.9,552.4 284.7,552.4 284.7,554.2 286.5,554.2 286.5,556 288.3,556 288.3,557.8 290.1,557.8 290.1,559.6 291.9,559.6 291.9,561.4 293.7,561.4 293.7,563.2 295.2,563.2 295.2,564.83 296.7,564.83 296.7,566.47 298.2,566.47 298.2,568.1 299.88,568.1 299.88,568.82 301.57,568.82 301.57,569.53 303.25,569.53 303.25,570.25 304.93,570.25 304.93,570.97 306.62,570.97 306.62,571.68 308.3,571.68 308.3,572.4 310,572.4 310,575.75 311.7,575.75 311.7,579.1 313.35,579.1 313.35,582.9 315,582.9 315,586.7 316.48,586.7 316.48,586.9 317.95,586.9 317.95,587.1 319.42,587.1 319.42,587.3 320.9,587.3 320.9,587.5 321.4,587.5 321.4,591.7 336.6,591.7 336.6,611.1 350.1,611.1 350.1,621.1" fill="none" stroke="#5cab3c" stroke-width="1.5" stroke-linejoin="miter"/>
<line x1="276.86" y1="541.06" x2="276.86" y2="543.46" stroke="#5cab3c" stroke-width="0.7"/>
<line x1="264.69" y1="525.79" x2="264.69" y2="528.19" stroke="#5cab3c" stroke-width="0.7"/>
<line x1="259.45" y1="517.61" x2="259.45" y2="520.01" stroke="#5cab3c" stroke-width="0.7"/>
<line x1="320.02" y1="586.18" x2="320.02" y2="588.58" stroke="#5cab3c" stroke-width="0.7"/>
<line x1="292.81" y1="561.11" x2="292.81" y2="563.51" stroke="#5cab3c" stroke-width="0.7"/>
<line x1="301.9" y1="568.48" x2="301.9" y2="570.88" stroke="#5cab3c" stroke-width="0.7"/>
<line x1="290.8" y1="559.1" x2="290.8" y2="561.5" stroke="#5cab3c" stroke-width="0.7"/>
<line x1="277.07" y1="541.27" x2="277.07" y2="543.67" stroke="#5cab3c" stroke-width="0.7"/>
<line x1="305.26" y1="569.91" x2="305.26" y2="572.31" stroke="#5cab3c" stroke-width="0.7"/>
<line x1="292.69" y1="560.99" x2="292.69" y2="563.39" stroke="#5cab3c" stroke-width="0.7"/>
<line x1="309.28" y1="573.13" x2="309.28" y2="575.53" stroke="#5cab3c" stroke-width="0.7"/>
<line x1="299.59" y1="567.49" x2="299.59" y2="569.89" stroke="#5cab3c" stroke-width="0.7"/>
<line x1="313.98" y1="583.16" x2="313.98" y2="585.56" stroke="#5cab3c" stroke-width="0.7"/>
<line x1="281.59" y1="548.88" x2="281.59" y2="551.28" stroke="#5cab3c" stroke-width="0.7"/>
<line x1="258.56" y1="516.44" x2="258.56" y2="518.84" stroke="#5cab3c" stroke-width="0.7"/>
<line x1="258.14" y1="515.88" x2="258.14" y2="518.28" stroke="#5cab3c" stroke-width="0.7"/>
<line x1="304.58" y1="569.61" x2="304.58" y2="572.01" stroke="#5cab3c" stroke-width="0.7"/>
<line x1="259.57" y1="517.77" x2="259.57" y2="520.17" stroke="#5cab3c" stroke-width="0.7"/>
<line x1="299.03" y1="567.25" x2="299.03" y2="569.65" stroke="#5cab3c" stroke-width="0.7"/>
<line x1="296.28" y1="564.81" x2="296.28" y2="567.21" stroke="#5cab3c" stroke-width="0.7"/>
<line x1="250.82" y1="512.87" x2="250.82" y2="515.27" stroke="#5cab3c" stroke-width="0.7"/>
<line x1="309.53" y1="573.62" x2="309.53" y2="576.02" stroke="#5cab3c" stroke-width="0.7"/>
<polyline points="232.3,506.6 232.6,506.6 232.6,512.1 246.8,512.1 246.8,517.2 263.6,517.2 263.6,522.2 264.7,522.2 264.7,527.6 271.7,527.6 271.7,533 274.4,533 274.4,540.4 293.3,540.4 293.3,554.6 300.1,554.6 300.1,576.7 314.4,576.7 314.4,576.7" fill="none" stroke="#b56a2c" stroke-width="1.4" stroke-linejoin="miter"/>
<line x1="295.25" y1="553.4" x2="295.25" y2="555.8" stroke="#b56a2c" stroke-width="0.7"/>
<line x1="263.3" y1="516" x2="263.3" y2="518.4" stroke="#b56a2c" stroke-width="0.7"/>
<line x1="276.3" y1="539.2" x2="276.3" y2="541.6" stroke="#b56a2c" stroke-width="0.7"/>
<line x1="273.61" y1="531.8" x2="273.61" y2="534.2" stroke="#b56a2c" stroke-width="0.7"/>
<line x1="300.3" y1="575.5" x2="300.3" y2="577.9" stroke="#b56a2c" stroke-width="0.7"/>
<polyline points="232.3,506.6 243.5,506.6 243.5,509.2 261.6,509.2 261.6,515.5 270.4,515.5 270.4,517.5 277.1,517.5 277.1,520.9 286.5,520.9 286.5,522.9 287.9,522.9 287.9,526.9 289.9,526.9 289.9,532.5 302.6,532.5 302.6,539.6 328.7,539.6 328.7,548.8 363.8,548.8 363.8,548.8" fill="none" stroke="#f3c22a" stroke-width="1.5" stroke-linejoin="miter"/>
<line x1="254.36" y1="508" x2="254.36" y2="510.4" stroke="#f3c22a" stroke-width="0.7"/>
<line x1="328.67" y1="538.4" x2="328.67" y2="540.8" stroke="#f3c22a" stroke-width="0.7"/>
<line x1="266.26" y1="514.3" x2="266.26" y2="516.7" stroke="#f3c22a" stroke-width="0.7"/>
<line x1="302.27" y1="531.3" x2="302.27" y2="533.7" stroke="#f3c22a" stroke-width="0.7"/>
<line x1="325.9" y1="538.4" x2="325.9" y2="540.8" stroke="#f3c22a" stroke-width="0.7"/>
<line x1="339.6" y1="547.6" x2="339.6" y2="550" stroke="#f3c22a" stroke-width="0.7"/>
<line x1="301.21" y1="531.3" x2="301.21" y2="533.7" stroke="#f3c22a" stroke-width="0.7"/>
<line x1="306.3" y1="538.4" x2="306.3" y2="540.8" stroke="#f3c22a" stroke-width="0.7"/>
<line x1="252.16" y1="508" x2="252.16" y2="510.4" stroke="#f3c22a" stroke-width="0.7"/>
<line x1="298.86" y1="531.3" x2="298.86" y2="533.7" stroke="#f3c22a" stroke-width="0.7"/>
<line x1="292.08" y1="531.3" x2="292.08" y2="533.7" stroke="#f3c22a" stroke-width="0.7"/>
<line x1="346.31" y1="547.6" x2="346.31" y2="550" stroke="#f3c22a" stroke-width="0.7"/>
<line x1="311.81" y1="538.4" x2="311.81" y2="540.8" stroke="#f3c22a" stroke-width="0.7"/>
<line x1="335.35" y1="547.6" x2="335.35" y2="550" stroke="#f3c22a" stroke-width="0.7"/>
<polyline points="232.2,506.6 252,506.6 253,506.6 253,507.85 254,507.85 254,509.1 255.27,509.1 255.27,509.18 256.53,509.18 256.53,509.26 257.8,509.26 257.8,509.33 259.07,509.33 259.07,509.41 260.33,509.41 260.33,509.49 261.6,509.49 261.6,509.57 262.87,509.57 262.87,509.64 264.13,509.64 264.13,509.72 265.4,509.72 265.4,509.8 266.76,509.8 266.76,510.2 268.12,510.2 268.12,510.6 269.48,510.6 269.48,511 270.84,511 270.84,511.4 272.2,511.4 272.2,511.8 273.54,511.8 273.54,512.2 274.88,512.2 274.88,512.6 276.22,512.6 276.22,513 277.56,513 277.56,513.4 278.9,513.4 278.9,513.8 280.24,513.8 280.24,514.34 281.58,514.34 281.58,514.88 282.92,514.88 282.92,515.42 284.26,515.42 284.26,515.96 285.6,515.96 285.6,516.5 286.96,516.5 286.96,516.9 288.32,516.9 288.32,517.3 289.68,517.3 289.68,517.7 291.04,517.7 291.04,518.1 292.4,518.1 292.4,518.5 293.6,518.5 293.6,518.75 294.8,518.75 294.8,519 296.14,519 296.14,519.52 297.48,519.52 297.48,520.04 298.82,520.04 298.82,520.56 300.16,520.56 300.16,521.08 301.5,521.08 301.5,521.6 302.77,521.6 302.77,522.85 304.05,522.85 304.05,524.1 305.33,524.1 305.33,525.35 306.6,525.35 306.6,526.6 307.94,526.6 307.94,527.62 309.28,527.62 309.28,528.64 310.62,528.64 310.62,529.66 311.96,529.66 311.96,530.68 313.3,530.68 313.3,531.7 314.66,531.7 314.66,532.04 316.02,532.04 316.02,532.38 317.38,532.38 317.38,532.72 318.74,532.72 318.74,533.06 320.1,533.06 320.1,533.4 321.44,533.4 321.44,533.56 322.78,533.56 322.78,533.72 324.12,533.72 324.12,533.88 325.46,533.88 325.46,534.04 326.8,534.04 326.8,534.2 328.23,534.2 328.23,535.03 329.67,535.03 329.67,535.87 331.1,535.87 331.1,536.7 332.5,536.7 332.5,537.27 333.9,537.27 333.9,537.83 335.3,537.83 335.3,538.4 337,538.4 337,545.2 338.25,545.2 338.25,548.55 339.5,548.55 339.5,551.9 340.9,551.9 340.9,552.47 342.3,552.47 342.3,553.03 343.7,553.03 343.7,553.6 345.04,553.6 345.04,553.76 346.38,553.76 346.38,553.92 347.72,553.92 347.72,554.08 349.06,554.08 349.06,554.24 350.4,554.24 350.4,554.4 352.1,554.4 352.1,557.8 353.53,557.8 353.53,558.63 354.97,558.63 354.97,559.47 356.4,559.47 356.4,560.3 358.9,560.3 358.9,571.3 363.8,571.3" fill="none" stroke="#25428c" stroke-width="1.5" stroke-linejoin="miter"/>
<line x1="285.96" y1="515.41" x2="285.96" y2="517.81" stroke="#25428c" stroke-width="0.7"/>
<line x1="303.52" y1="522.38" x2="303.52" y2="524.78" stroke="#25428c" stroke-width="0.7"/>
<line x1="345.64" y1="552.63" x2="345.64" y2="555.03" stroke="#25428c" stroke-width="0.7"/>
<line x1="255.45" y1="507.99" x2="255.45" y2="510.39" stroke="#25428c" stroke-width="0.7"/>
<line x1="261.83" y1="508.38" x2="261.83" y2="510.78" stroke="#25428c" stroke-width="0.7"/>
<line x1="236.03" y1="505.4" x2="236.03" y2="507.8" stroke="#25428c" stroke-width="0.7"/>
<line x1="247.55" y1="505.4" x2="247.55" y2="507.8" stroke="#25428c" stroke-width="0.7"/>
<line x1="233.36" y1="505.4" x2="233.36" y2="507.8" stroke="#25428c" stroke-width="0.7"/>
<line x1="252.82" y1="506.43" x2="252.82" y2="508.83" stroke="#25428c" stroke-width="0.7"/>
<line x1="299.8" y1="519.74" x2="299.8" y2="522.14" stroke="#25428c" stroke-width="0.7"/>
<line x1="362.42" y1="570.1" x2="362.42" y2="572.5" stroke="#25428c" stroke-width="0.7"/>
<line x1="323.47" y1="532.6" x2="323.47" y2="535" stroke="#25428c" stroke-width="0.7"/>
<line x1="282" y1="513.85" x2="282" y2="516.25" stroke="#25428c" stroke-width="0.7"/>
<line x1="285.5" y1="515.26" x2="285.5" y2="517.66" stroke="#25428c" stroke-width="0.7"/>
<line x1="323.18" y1="532.57" x2="323.18" y2="534.97" stroke="#25428c" stroke-width="0.7"/>
<line x1="275.12" y1="511.47" x2="275.12" y2="513.87" stroke="#25428c" stroke-width="0.7"/>
<line x1="241.88" y1="505.4" x2="241.88" y2="507.8" stroke="#25428c" stroke-width="0.7"/>
<line x1="342.94" y1="552.09" x2="342.94" y2="554.49" stroke="#25428c" stroke-width="0.7"/>
<line x1="313.43" y1="530.53" x2="313.43" y2="532.93" stroke="#25428c" stroke-width="0.7"/>
<line x1="246.94" y1="505.4" x2="246.94" y2="507.8" stroke="#25428c" stroke-width="0.7"/>
<line x1="241.42" y1="505.4" x2="241.42" y2="507.8" stroke="#25428c" stroke-width="0.7"/>
<line x1="244.65" y1="505.4" x2="244.65" y2="507.8" stroke="#25428c" stroke-width="0.7"/>
<line x1="358.39" y1="559.1" x2="358.39" y2="561.5" stroke="#25428c" stroke-width="0.7"/>
<line x1="246.38" y1="505.4" x2="246.38" y2="507.8" stroke="#25428c" stroke-width="0.7"/>
<line x1="314.49" y1="530.8" x2="314.49" y2="533.2" stroke="#25428c" stroke-width="0.7"/>
<line x1="359.8" y1="570.1" x2="359.8" y2="572.5" stroke="#25428c" stroke-width="0.7"/>
<line x1="236.81" y1="505.4" x2="236.81" y2="507.8" stroke="#25428c" stroke-width="0.7"/>
<line x1="282.98" y1="514.24" x2="282.98" y2="516.64" stroke="#25428c" stroke-width="0.7"/>
<line x1="295.01" y1="517.88" x2="295.01" y2="520.28" stroke="#25428c" stroke-width="0.7"/>
<line x1="352.86" y1="557.04" x2="352.86" y2="559.44" stroke="#25428c" stroke-width="0.7"/>
<line x1="257.02" y1="508.09" x2="257.02" y2="510.49" stroke="#25428c" stroke-width="0.7"/>
<line x1="266.2" y1="508.83" x2="266.2" y2="511.23" stroke="#25428c" stroke-width="0.7"/>
<line x1="264.83" y1="508.57" x2="264.83" y2="510.97" stroke="#25428c" stroke-width="0.7"/>
<line x1="238.68" y1="505.4" x2="238.68" y2="507.8" stroke="#25428c" stroke-width="0.7"/>
<line x1="320.86" y1="532.29" x2="320.86" y2="534.69" stroke="#25428c" stroke-width="0.7"/>
<line x1="339.68" y1="550.77" x2="339.68" y2="553.17" stroke="#25428c" stroke-width="0.7"/>
<line x1="289.63" y1="516.48" x2="289.63" y2="518.88" stroke="#25428c" stroke-width="0.7"/>
<line x1="237.18" y1="505.4" x2="237.18" y2="507.8" stroke="#25428c" stroke-width="0.7"/>
<line x1="326.11" y1="532.92" x2="326.11" y2="535.32" stroke="#25428c" stroke-width="0.7"/>
<line x1="329.2" y1="534.39" x2="329.2" y2="536.79" stroke="#25428c" stroke-width="0.7"/>
<line x1="314.4" y1="575" x2="314.4" y2="578.4" stroke="#b56a2c" stroke-width="0.8"/>
<line x1="353" y1="506.6" x2="361" y2="506.6" stroke="#f3c22a" stroke-width="1.5"/>
<text x="349.7" y="508.4" font-size="4.6" fill="#222" text-anchor="end">i–CLL w/o IGLV3–21<tspan font-size="2.6" dy="-2">R110</tspan></text>
<line x1="353" y1="512.3" x2="361" y2="512.3" stroke="#b56a2c" stroke-width="1.5"/>
<text x="349.7" y="514.1" font-size="4.6" fill="#222" text-anchor="end">i–CLL w/ IGLV3–21<tspan font-size="2.6" dy="-2">R110</tspan></text>
<line x1="353" y1="517.7" x2="361" y2="517.7" stroke="#25428c" stroke-width="1.5"/>
<text x="349.7" y="519.5" font-size="4.6" text-anchor="end" fill="#222">m–CLL</text>
<line x1="353" y1="522.8" x2="361" y2="522.8" stroke="#5cab3c" stroke-width="1.5"/>
<text x="349.7" y="524.6" font-size="4.6" text-anchor="end" fill="#222">n–CLL</text>
<text x="347.3" y="623.2" font-size="4.6" fill="#222" text-anchor="end"><tspan font-style="italic">P</tspan> &lt; 0.001</text>
<rect x="240.4" y="596" width="22.5" height="5.8" fill="#fff" stroke="#333" stroke-width="0.6"/>
<text x="241.9" y="600.4" font-size="4.3" fill="#333" textLength="19.8" lengthAdjust="spacing">P = 0.066</text>
<rect x="240.4" y="601.8" width="22.5" height="5.5" fill="#fff" stroke="#333" stroke-width="0.6"/>
<text x="241.9" y="605.9" font-size="4.3" fill="#333" textLength="19.8" lengthAdjust="spacing">P &lt; 0.001</text>
<rect x="262.9" y="601.8" width="23.2" height="5.5" fill="#fff" stroke="#333" stroke-width="0.6"/>
<text x="264.4" y="605.9" font-size="4.3" fill="#333" textLength="17.6" lengthAdjust="spacing">P = 0.63</text>
<rect x="240.4" y="607.3" width="22.5" height="6.1" fill="#fff" stroke="#333" stroke-width="0.6"/>
<text x="241.9" y="612" font-size="4.3" fill="#333" textLength="17.6" lengthAdjust="spacing">P = 0.60</text>
<rect x="262.9" y="607.3" width="23.2" height="6.1" fill="#fff" stroke="#333" stroke-width="0.6"/>
<text x="264.4" y="612" font-size="4.3" fill="#333" textLength="19.8" lengthAdjust="spacing">P &lt; 0.001</text>
<rect x="286.1" y="607.3" width="22.5" height="6.1" fill="#fff" stroke="#333" stroke-width="0.6"/>
<text x="287.6" y="612" font-size="4.3" fill="#333" textLength="19.8" lengthAdjust="spacing">P &lt; 0.001</text>
<rect x="236.4" y="596" width="4" height="5.8" fill="#b56a2c" stroke="#222" stroke-width="0.5"/>
<rect x="236.4" y="601.8" width="4" height="5.5" fill="#5cab3c" stroke="#222" stroke-width="0.5"/>
<rect x="236.4" y="607.3" width="4" height="6.1" fill="#3d70c2" stroke="#222" stroke-width="0.5"/>
<rect x="240.4" y="613.4" width="22.5" height="4.3" fill="#f3c22a" stroke="#333" stroke-width="0.5"/>
<rect x="262.9" y="613.4" width="23.2" height="4.3" fill="#b56a2c" stroke="#333" stroke-width="0.5"/>
<rect x="286.1" y="613.4" width="22.5" height="4.3" fill="#5cab3c" stroke="#333" stroke-width="0.5"/>
<text x="274.8" y="623.3" font-size="5.2" text-anchor="middle" font-style="italic" fill="#222" textLength="56" lengthAdjust="spacingAndGlyphs">pairwise comparisons</text>
<text x="207.5" y="663.3" font-size="6.8" fill="#111" textLength="34.5" lengthAdjust="spacingAndGlyphs">No. at risk:</text>
<line x1="207.5" y1="671.2" x2="224" y2="671.2" stroke="#25428c" stroke-width="1.5"/>
<text x="232.2" y="673.3" font-size="6" text-anchor="middle" fill="#111">231</text>
<text x="258.6" y="673.3" font-size="6" text-anchor="middle" fill="#111">221</text>
<text x="285" y="673.3" font-size="6" text-anchor="middle" fill="#111">154</text>
<text x="311.4" y="673.3" font-size="6" text-anchor="middle" fill="#111">81</text>
<text x="337.8" y="673.3" font-size="6" text-anchor="middle" fill="#111">34</text>
<text x="364.2" y="673.3" font-size="6" text-anchor="middle" fill="#111">10</text>
<line x1="207.5" y1="680.6" x2="224" y2="680.6" stroke="#f3c22a" stroke-width="1.5"/>
<text x="232.2" y="682.7" font-size="6" text-anchor="middle" fill="#111">40</text>
<text x="258.6" y="682.7" font-size="6" text-anchor="middle" fill="#111">39</text>
<text x="285" y="682.7" font-size="6" text-anchor="middle" fill="#111">22</text>
<text x="311.4" y="682.7" font-size="6" text-anchor="middle" fill="#111">11</text>
<text x="337.8" y="682.7" font-size="6" text-anchor="middle" fill="#111">3</text>
<text x="364.2" y="682.7" font-size="6" text-anchor="middle" fill="#111">1</text>
<line x1="207.5" y1="689.8" x2="224" y2="689.8" stroke="#b56a2c" stroke-width="1.5"/>
<text x="232.2" y="691.9" font-size="6" text-anchor="middle" fill="#111">22</text>
<text x="258.6" y="691.9" font-size="6" text-anchor="middle" fill="#111">20</text>
<text x="285" y="691.9" font-size="6" text-anchor="middle" fill="#111">6</text>
<text x="311.4" y="691.9" font-size="6" text-anchor="middle" fill="#111">2</text>
<text x="337.8" y="691.9" font-size="6" text-anchor="middle" fill="#111">0</text>
<text x="364.2" y="691.9" font-size="6" text-anchor="middle" fill="#111">0</text>
<line x1="207.5" y1="699.3" x2="224" y2="699.3" stroke="#5cab3c" stroke-width="1.5"/>
<text x="232.2" y="701.4" font-size="6" text-anchor="middle" fill="#111">152</text>
<text x="258.6" y="701.4" font-size="6" text-anchor="middle" fill="#111">131</text>
<text x="285" y="701.4" font-size="6" text-anchor="middle" fill="#111">47</text>
<text x="311.4" y="701.4" font-size="6" text-anchor="middle" fill="#111">12</text>
<text x="337.8" y="701.4" font-size="6" text-anchor="middle" fill="#111">1</text>
<text x="364.2" y="701.4" font-size="6" text-anchor="middle" fill="#111">0</text>
<text x="385" y="489.6" font-size="12.6" font-weight="bold">J</text>
<defs>
<pattern id="hatchL" patternUnits="userSpaceOnUse" width="2.2" height="2.2" patternTransform="rotate(-45)"><rect width="2.2" height="2.2" fill="#62a8e6"/><line x1="0" y1="0" x2="0" y2="2.2" stroke="#3c7ab8" stroke-width="1"/></pattern>
<pattern id="hatchD" patternUnits="userSpaceOnUse" width="2.2" height="2.2" patternTransform="rotate(-45)"><rect width="2.2" height="2.2" fill="#2d4c8c"/><line x1="0" y1="0" x2="0" y2="2.2" stroke="#1c3164" stroke-width="1"/></pattern>
<pattern id="cross" patternUnits="userSpaceOnUse" width="2.4" height="2.4"><rect width="2.4" height="2.4" fill="#fff"/><path d="M0,0 L2.4,2.4 M2.4,0 L0,2.4" stroke="#888" stroke-width="0.3"/></pattern>
</defs>
<rect x="434.1" y="512.24" width="17.4" height="113.76" fill="#000"/>
<rect x="434.1" y="509.89" width="17.4" height="2.35" fill="#7f7f7f"/>
<rect x="434.1" y="508.72" width="17.4" height="1.17" fill="#2d4c8c"/>
<rect x="458.8" y="560.56" width="17.4" height="65.44" fill="#000"/>
<rect x="458.8" y="553.05" width="17.4" height="7.51" fill="#7f7f7f"/>
<rect x="458.8" y="533.11" width="17.4" height="19.94" fill="#2d4c8c"/>
<rect x="458.8" y="526.31" width="17.4" height="6.8" fill="url(#hatchD)"/>
<rect x="458.8" y="517.16" width="17.4" height="9.15" fill="#62a8e6"/>
<rect x="458.8" y="508.72" width="17.4" height="8.44" fill="url(#hatchL)"/>
<rect x="483.4" y="509.66" width="17.6" height="116.34" fill="#7f7f7f"/>
<rect x="483.4" y="508.72" width="17.6" height="0.94" fill="#62a8e6"/>
<line x1="427.8" y1="502.3" x2="427.8" y2="626.9" stroke="#000" stroke-width="1.3"/>
<line x1="427.2" y1="626.3" x2="507.3" y2="626.3" stroke="#000" stroke-width="1.4"/>
<line x1="424.4" y1="626" x2="427.8" y2="626" stroke="#000" stroke-width="1"/>
<text x="421.3" y="628.4" font-size="6.6" text-anchor="end" fill="#111">0</text>
<line x1="424.4" y1="596.68" x2="427.8" y2="596.68" stroke="#000" stroke-width="1"/>
<text x="421.3" y="599.08" font-size="6.6" text-anchor="end" fill="#111">25</text>
<line x1="424.4" y1="567.36" x2="427.8" y2="567.36" stroke="#000" stroke-width="1"/>
<text x="421.3" y="569.76" font-size="6.6" text-anchor="end" fill="#111">50</text>
<line x1="424.4" y1="538.04" x2="427.8" y2="538.04" stroke="#000" stroke-width="1"/>
<text x="421.3" y="540.44" font-size="6.6" text-anchor="end" fill="#111">75</text>
<line x1="424.4" y1="508.72" x2="427.8" y2="508.72" stroke="#000" stroke-width="1"/>
<text x="421.3" y="511.12" font-size="6.6" text-anchor="end" fill="#111">100</text>
<line x1="442.8" y1="626.3" x2="442.8" y2="628.8" stroke="#000" stroke-width="0.9"/>
<line x1="467.5" y1="626.3" x2="467.5" y2="628.8" stroke="#000" stroke-width="0.9"/>
<line x1="492.2" y1="626.3" x2="492.2" y2="628.8" stroke="#000" stroke-width="0.9"/>
<text x="0" y="0" font-size="8.4" text-anchor="middle" fill="#111" transform="translate(405.6,564.5) rotate(-90)" textLength="33.8" lengthAdjust="spacingAndGlyphs">% of cases</text>
<text x="442.4" y="636.8" font-size="7.3" text-anchor="middle" fill="#3d5ea8" textLength="20.3" lengthAdjust="spacingAndGlyphs">m-CLL</text>
<text x="467.3" y="636.8" font-size="7.3" text-anchor="middle" fill="#f0c030" textLength="15.5" lengthAdjust="spacingAndGlyphs">i-CLL</text>
<text x="492" y="636.8" font-size="7.3" text-anchor="middle" fill="#6cb04a" textLength="20.3" lengthAdjust="spacingAndGlyphs">n–CLL</text>
<text x="442.5" y="641.8" font-size="3.9" text-anchor="middle" fill="#333" textLength="16.5" lengthAdjust="spacingAndGlyphs">(n=291)</text>
<text x="467.3" y="641.8" font-size="3.9" text-anchor="middle" fill="#333" textLength="14" lengthAdjust="spacingAndGlyphs">(n=79)</text>
<text x="492" y="641.8" font-size="3.9" text-anchor="middle" fill="#333" textLength="16.5" lengthAdjust="spacingAndGlyphs">(n=189)</text>
<text x="405.8" y="652.7" font-size="7.1" fill="#111" textLength="58.8" lengthAdjust="spacingAndGlyphs">IG characterization</text>
<rect x="405.8" y="659.6" width="7.2" height="8" fill="#000" stroke="#111" stroke-width="0.7"/>
<text x="417.3" y="665.2" font-size="4.8" fill="#222" textLength="18.3" lengthAdjust="spacingAndGlyphs">M–IGHV</text>
<rect x="405.8" y="671.2" width="7.2" height="8" fill="#7f7f7f" stroke="#111" stroke-width="0.7"/>
<text x="417.3" y="676.8" font-size="4.8" fill="#222" textLength="17.3" lengthAdjust="spacingAndGlyphs">U–IGHV</text>
<rect x="405.8" y="682.2" width="7.2" height="8" fill="#fff" stroke="#111" stroke-width="0.7"/>
<text x="417.3" y="687.8" font-size="4.8" fill="#222" textLength="27" lengthAdjust="spacingAndGlyphs">No subset #2</text>
<rect x="451.2" y="659.6" width="7.2" height="8" fill="#2d4c8c" stroke="#111" stroke-width="0.7"/>
<text x="462.7" y="665.2" font-size="4.8" fill="#222"><tspan textLength="41.2" lengthAdjust="spacingAndGlyphs">M-IGHV w/ IGLV3-21</tspan><tspan font-size="2.6" dy="-2">R110</tspan></text>
<rect x="451.2" y="671.2" width="7.2" height="8" fill="#62a8e6" stroke="#111" stroke-width="0.7"/>
<text x="462.7" y="676.8" font-size="4.8" fill="#222"><tspan textLength="39.7" lengthAdjust="spacingAndGlyphs">U-IGHV w/ IGLV3-21</tspan><tspan font-size="2.6" dy="-2">R110</tspan></text>
<rect x="451.2" y="682.2" width="7.2" height="8" fill="url(#cross)" stroke="#111" stroke-width="0.7"/>
<text x="462.7" y="687.8" font-size="4.8" fill="#222" textLength="19.6" lengthAdjust="spacingAndGlyphs">Subset #2</text>
</svg></div></body></html>
